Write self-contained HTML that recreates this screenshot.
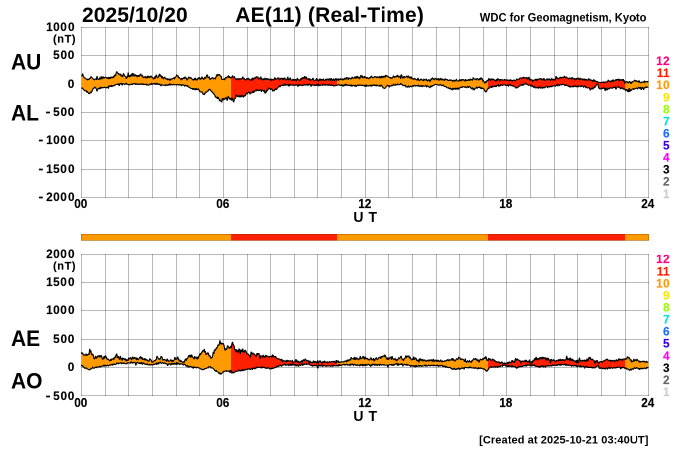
<!DOCTYPE html>
<html><head><meta charset="utf-8"><style>
html,body{margin:0;padding:0;background:#fff;width:700px;height:450px;overflow:hidden}
svg{display:block;position:absolute;left:0;top:0}
.t{position:absolute;font-family:"Liberation Sans", sans-serif;font-weight:bold;color:#000;line-height:1em;white-space:nowrap;transform-origin:0 0}
.stroke{-webkit-text-stroke:0.25px currentColor}
#tx{position:absolute;left:0;top:0;width:1400px;height:900px;transform:scale(0.5);transform-origin:0 0;will-change:transform}
</style></head><body>
<svg width="700" height="450" viewBox="0 0 700 450">
<defs><linearGradient id="g1" gradientUnits="userSpaceOnUse" x1="81" y1="0" x2="649" y2="0"><stop offset="0.0000" stop-color="#ff9b00"/><stop offset="0.2641" stop-color="#ff9b00"/><stop offset="0.2641" stop-color="#ff2000"/><stop offset="0.4507" stop-color="#ff2000"/><stop offset="0.4507" stop-color="#ff9b00"/><stop offset="0.7174" stop-color="#ff9b00"/><stop offset="0.7174" stop-color="#ff2000"/><stop offset="0.9577" stop-color="#ff2000"/><stop offset="0.9577" stop-color="#ff9b00"/><stop offset="1.0000" stop-color="#ff9b00"/></linearGradient></defs>
<rect width="700" height="450" fill="#fff"/>



<g stroke="rgba(0,0,0,0.275)" stroke-width="1" shape-rendering="crispEdges"><line x1="81.5" y1="27" x2="81.5" y2="198"/><line x1="105.5" y1="27" x2="105.5" y2="198"/><line x1="128.5" y1="27" x2="128.5" y2="198"/><line x1="152.5" y1="27" x2="152.5" y2="198"/><line x1="176.5" y1="27" x2="176.5" y2="198"/><line x1="199.5" y1="27" x2="199.5" y2="198"/><line x1="223.5" y1="27" x2="223.5" y2="198"/><line x1="247.5" y1="27" x2="247.5" y2="198"/><line x1="270.5" y1="27" x2="270.5" y2="198"/><line x1="294.5" y1="27" x2="294.5" y2="198"/><line x1="317.5" y1="27" x2="317.5" y2="198"/><line x1="341.5" y1="27" x2="341.5" y2="198"/><line x1="365.5" y1="27" x2="365.5" y2="198"/><line x1="388.5" y1="27" x2="388.5" y2="198"/><line x1="412.5" y1="27" x2="412.5" y2="198"/><line x1="436.5" y1="27" x2="436.5" y2="198"/><line x1="459.5" y1="27" x2="459.5" y2="198"/><line x1="483.5" y1="27" x2="483.5" y2="198"/><line x1="506.5" y1="27" x2="506.5" y2="198"/><line x1="530.5" y1="27" x2="530.5" y2="198"/><line x1="554.5" y1="27" x2="554.5" y2="198"/><line x1="577.5" y1="27" x2="577.5" y2="198"/><line x1="601.5" y1="27" x2="601.5" y2="198"/><line x1="625.5" y1="27" x2="625.5" y2="198"/><line x1="648.5" y1="27" x2="648.5" y2="198"/><line x1="81" y1="27.5" x2="649" y2="27.5"/><line x1="81" y1="55.5" x2="649" y2="55.5"/><line x1="81" y1="84.5" x2="649" y2="84.5"/><line x1="81" y1="112.5" x2="649" y2="112.5"/><line x1="81" y1="140.5" x2="649" y2="140.5"/><line x1="81" y1="169.5" x2="649" y2="169.5"/><line x1="81" y1="197.5" x2="649" y2="197.5"/></g>
<polygon points="81.4,75.9 82.0,75.9 82.6,73.7 83.2,75.7 83.8,76.9 84.4,77.8 85.0,78.1 85.6,78.5 86.2,79.0 86.8,79.2 87.4,79.8 88.0,79.0 88.6,79.5 89.2,79.0 89.8,78.4 90.4,78.0 91.0,76.7 91.6,77.4 92.2,77.8 92.8,78.5 93.4,79.3 94.0,79.4 94.6,79.7 95.2,79.0 95.8,78.9 96.4,79.8 97.0,76.1 97.6,78.9 98.2,79.2 98.8,79.4 99.4,78.2 100.0,79.1 100.6,77.9 101.2,76.4 101.8,79.2 102.4,78.1 103.0,76.4 103.6,78.0 104.2,78.2 104.8,77.5 105.4,77.1 106.0,77.4 106.6,77.8 107.2,77.8 107.8,78.7 108.4,77.2 109.0,79.0 109.6,77.7 110.2,77.3 110.8,78.1 111.4,77.1 112.0,77.3 112.6,77.7 113.2,76.9 113.8,77.3 114.4,75.1 115.0,75.2 115.6,75.6 116.2,73.0 116.8,71.6 117.4,72.9 118.0,73.3 118.6,73.7 119.2,74.6 119.8,74.2 120.4,74.1 121.0,75.8 121.6,75.2 122.2,76.5 122.8,76.3 123.4,73.8 124.0,74.3 124.6,75.5 125.2,76.3 125.8,77.0 126.4,78.7 127.0,76.8 127.6,77.3 128.2,72.5 128.8,76.8 129.4,75.2 130.0,77.0 130.6,75.4 131.2,74.6 131.8,76.0 132.4,73.2 133.0,76.3 133.6,73.5 134.2,74.7 134.8,75.8 135.4,74.9 136.0,75.7 136.6,75.4 137.2,76.6 137.8,75.8 138.4,75.5 139.0,76.8 139.6,75.3 140.2,74.6 140.8,73.8 141.4,76.2 142.0,75.0 142.6,76.2 143.2,77.6 143.8,77.2 144.4,76.9 145.0,77.5 145.6,76.7 146.2,77.9 146.8,76.7 147.4,78.0 148.0,75.6 148.6,77.8 149.2,76.4 149.8,77.8 150.4,76.2 151.0,76.1 151.6,76.4 152.2,77.7 152.8,77.7 153.4,78.9 154.0,78.6 154.6,76.7 155.2,78.6 155.8,76.2 156.4,74.8 157.0,77.0 157.6,77.7 158.2,77.2 158.8,76.1 159.4,73.8 160.0,76.5 160.6,75.3 161.2,75.9 161.8,78.4 162.4,76.3 163.0,77.9 163.6,78.7 164.2,77.6 164.8,77.3 165.4,78.1 166.0,78.8 166.6,79.3 167.2,78.8 167.8,79.6 168.4,79.0 169.0,79.0 169.6,80.6 170.2,79.2 170.8,79.9 171.4,79.1 172.0,79.0 172.6,78.5 173.2,78.4 173.8,77.9 174.4,78.7 175.0,77.5 175.6,77.1 176.2,76.2 176.8,75.1 177.4,75.8 178.0,75.8 178.6,77.6 179.2,77.6 179.8,78.4 180.4,78.7 181.0,79.6 181.6,78.5 182.2,79.2 182.8,78.6 183.4,78.4 184.0,77.3 184.6,78.9 185.2,77.1 185.8,77.7 186.4,78.3 187.0,80.3 187.6,79.4 188.2,78.1 188.8,77.2 189.4,77.7 190.0,78.2 190.6,77.6 191.2,77.9 191.8,78.9 192.4,79.2 193.0,79.7 193.6,80.2 194.2,78.9 194.8,79.7 195.4,77.8 196.0,80.0 196.6,79.7 197.2,79.9 197.8,78.6 198.4,77.9 199.0,78.8 199.6,78.0 200.2,79.4 200.8,78.4 201.4,78.7 202.0,77.2 202.6,77.9 203.2,78.8 203.8,79.6 204.4,78.1 205.0,77.1 205.6,78.5 206.2,76.9 206.8,75.1 207.4,75.1 208.0,77.5 208.6,77.6 209.2,77.1 209.8,79.1 210.4,79.5 211.0,78.5 211.6,78.5 212.2,77.6 212.8,78.0 213.4,78.8 214.0,78.1 214.6,78.3 215.2,78.9 215.8,77.8 216.4,75.6 217.0,74.8 217.6,75.7 218.2,74.5 218.8,74.8 219.4,74.7 220.0,75.3 220.6,76.4 221.2,76.5 221.8,79.3 222.4,79.3 223.0,79.4 223.6,79.3 224.2,79.0 224.8,79.6 225.4,77.7 226.0,78.0 226.6,77.9 227.2,76.8 227.8,76.8 228.4,76.0 229.0,77.4 229.6,76.7 230.2,77.5 230.8,77.9 231.4,77.2 232.0,77.0 232.6,75.6 233.2,77.3 233.8,77.4 234.4,76.8 235.0,78.0 235.6,78.9 236.2,79.1 236.8,78.9 237.4,79.9 238.0,78.5 238.6,78.9 239.2,79.5 239.8,78.7 240.4,78.9 241.0,78.8 241.6,79.0 242.2,78.5 242.8,76.7 243.4,78.8 244.0,78.5 244.6,79.1 245.2,79.4 245.8,80.0 246.4,79.6 247.0,78.3 247.6,79.2 248.2,79.1 248.8,78.4 249.4,79.5 250.0,80.2 250.6,79.9 251.2,79.3 251.8,80.9 252.4,78.3 253.0,78.2 253.6,79.1 254.2,78.2 254.8,77.9 255.4,78.7 256.0,77.0 256.6,76.8 257.2,77.1 257.8,76.9 258.4,78.8 259.0,78.4 259.6,78.4 260.2,78.7 260.8,76.7 261.4,79.0 262.0,79.1 262.6,79.8 263.2,78.8 263.8,79.7 264.4,79.6 265.0,78.4 265.6,79.1 266.2,79.4 266.8,78.6 267.4,79.1 268.0,78.8 268.6,79.5 269.2,79.4 269.8,79.3 270.4,80.1 271.0,78.7 271.6,80.3 272.2,79.7 272.8,79.5 273.4,80.0 274.0,79.6 274.6,77.9 275.2,78.0 275.8,79.4 276.4,79.3 277.0,78.7 277.6,78.1 278.2,78.0 278.8,77.9 279.4,80.2 280.0,79.4 280.6,78.3 281.2,78.4 281.8,78.5 282.4,79.3 283.0,78.0 283.6,79.2 284.2,78.6 284.8,77.7 285.4,79.5 286.0,79.9 286.6,79.2 287.2,79.1 287.8,76.8 288.4,80.4 289.0,78.6 289.6,79.7 290.2,77.7 290.8,79.3 291.4,80.3 292.0,80.4 292.6,79.5 293.2,80.2 293.8,79.5 294.4,80.1 295.0,79.5 295.6,79.6 296.2,80.6 296.8,79.6 297.4,78.6 298.0,79.4 298.6,79.9 299.2,79.8 299.8,80.5 300.4,79.6 301.0,78.6 301.6,79.1 302.2,77.7 302.8,78.2 303.4,77.8 304.0,78.3 304.6,76.2 305.2,77.6 305.8,78.3 306.4,76.8 307.0,78.9 307.6,79.3 308.2,79.2 308.8,78.3 309.4,80.1 310.0,79.2 310.6,80.3 311.2,79.7 311.8,79.7 312.4,79.4 313.0,77.9 313.6,80.4 314.2,80.2 314.8,80.2 315.4,80.1 316.0,79.9 316.6,78.2 317.2,80.7 317.8,79.5 318.4,80.9 319.0,80.2 319.6,79.4 320.2,80.6 320.8,79.4 321.4,80.1 322.0,79.7 322.6,79.8 323.2,79.1 323.8,80.4 324.4,80.2 325.0,79.9 325.6,79.4 326.2,80.4 326.8,79.1 327.4,79.1 328.0,79.4 328.6,80.3 329.2,78.5 329.8,79.5 330.4,80.1 331.0,78.3 331.6,79.2 332.2,80.6 332.8,79.7 333.4,78.7 334.0,80.4 334.6,80.7 335.2,79.0 335.8,78.8 336.4,79.9 337.0,79.2 337.6,79.8 338.2,78.7 338.8,80.1 339.4,79.3 340.0,79.5 340.6,78.7 341.2,79.5 341.8,79.6 342.4,78.8 343.0,80.3 343.6,79.2 344.2,78.4 344.8,79.1 345.4,78.4 346.0,79.6 346.6,77.6 347.2,77.7 347.8,78.0 348.4,79.9 349.0,78.0 349.6,78.3 350.2,78.4 350.8,78.8 351.4,78.9 352.0,77.3 352.6,77.3 353.2,78.5 353.8,78.1 354.4,77.6 355.0,76.7 355.6,78.6 356.2,76.5 356.8,78.3 357.4,76.1 358.0,77.5 358.6,77.4 359.2,78.6 359.8,78.6 360.4,76.0 361.0,75.5 361.6,76.9 362.2,76.2 362.8,77.6 363.4,77.0 364.0,77.7 364.6,76.2 365.2,77.1 365.8,77.2 366.4,78.6 367.0,77.2 367.6,78.1 368.2,78.1 368.8,78.6 369.4,77.9 370.0,77.5 370.6,77.7 371.2,75.8 371.8,76.9 372.4,77.3 373.0,77.8 373.6,77.5 374.2,76.9 374.8,76.7 375.4,76.8 376.0,76.7 376.6,77.6 377.2,77.5 377.8,76.8 378.4,77.6 379.0,77.3 379.6,76.3 380.2,77.9 380.8,77.2 381.4,75.9 382.0,78.0 382.6,76.7 383.2,76.3 383.8,77.3 384.4,76.4 385.0,77.0 385.6,75.5 386.2,76.0 386.8,75.7 387.4,76.1 388.0,76.8 388.6,76.9 389.2,77.2 389.8,77.5 390.4,78.2 391.0,77.6 391.6,78.3 392.2,77.9 392.8,77.6 393.4,75.8 394.0,76.5 394.6,77.3 395.2,76.7 395.8,76.8 396.4,76.1 397.0,76.9 397.6,74.9 398.2,76.7 398.8,77.0 399.4,76.4 400.0,76.2 400.6,78.8 401.2,74.6 401.8,75.6 402.4,77.6 403.0,77.9 403.6,76.7 404.2,76.5 404.8,77.7 405.4,77.3 406.0,76.9 406.6,76.1 407.2,76.6 407.8,77.3 408.4,75.8 409.0,76.7 409.6,78.2 410.2,77.0 410.8,77.8 411.4,77.3 412.0,79.3 412.6,78.4 413.2,78.7 413.8,79.3 414.4,78.5 415.0,78.9 415.6,79.1 416.2,79.6 416.8,80.0 417.4,79.9 418.0,77.9 418.6,79.8 419.2,80.3 419.8,80.3 420.4,79.4 421.0,79.0 421.6,79.8 422.2,79.9 422.8,80.2 423.4,80.6 424.0,79.2 424.6,79.8 425.2,79.8 425.8,79.8 426.4,78.9 427.0,80.5 427.6,80.9 428.2,80.2 428.8,79.7 429.4,80.2 430.0,81.7 430.6,80.1 431.2,78.9 431.8,79.5 432.4,78.0 433.0,78.6 433.6,78.8 434.2,79.9 434.8,78.7 435.4,78.6 436.0,78.5 436.6,79.7 437.2,79.7 437.8,78.7 438.4,78.6 439.0,80.6 439.6,79.3 440.2,78.6 440.8,79.6 441.4,79.0 442.0,80.0 442.6,79.1 443.2,79.6 443.8,79.9 444.4,80.6 445.0,78.7 445.6,79.4 446.2,79.8 446.8,79.4 447.4,79.7 448.0,80.4 448.6,80.4 449.2,80.5 449.8,80.0 450.4,80.3 451.0,79.9 451.6,80.2 452.2,80.5 452.8,81.4 453.4,80.5 454.0,80.2 454.6,81.2 455.2,81.1 455.8,80.1 456.4,79.5 457.0,80.7 457.6,81.2 458.2,81.1 458.8,80.7 459.4,79.8 460.0,80.8 460.6,80.5 461.2,79.3 461.8,80.5 462.4,79.7 463.0,79.6 463.6,79.7 464.2,80.8 464.8,80.9 465.4,79.3 466.0,81.0 466.6,80.2 467.2,80.3 467.8,80.3 468.4,79.6 469.0,80.0 469.6,80.7 470.2,78.9 470.8,79.8 471.4,79.4 472.0,79.9 472.6,80.0 473.2,77.9 473.8,78.2 474.4,79.0 475.0,79.2 475.6,79.0 476.2,79.8 476.8,78.8 477.4,78.7 478.0,79.1 478.6,80.2 479.2,79.2 479.8,78.3 480.4,79.7 481.0,77.3 481.6,79.3 482.2,78.3 482.8,80.9 483.4,80.6 484.0,81.5 484.6,83.3 485.2,82.5 485.8,81.8 486.4,82.1 487.0,80.7 487.6,80.4 488.2,80.5 488.8,78.9 489.4,79.5 490.0,78.7 490.6,80.7 491.2,79.7 491.8,79.0 492.4,79.6 493.0,79.2 493.6,79.3 494.2,80.1 494.8,80.0 495.4,80.3 496.0,81.1 496.6,79.7 497.2,80.5 497.8,78.7 498.4,79.3 499.0,79.7 499.6,81.2 500.2,79.6 500.8,79.6 501.4,79.7 502.0,80.0 502.6,79.8 503.2,80.2 503.8,79.9 504.4,79.5 505.0,80.1 505.6,79.8 506.2,80.2 506.8,79.9 507.4,80.1 508.0,80.0 508.6,80.3 509.2,80.1 509.8,80.6 510.4,79.8 511.0,80.4 511.6,80.4 512.2,81.0 512.8,80.6 513.4,80.2 514.0,80.0 514.6,80.3 515.2,80.6 515.8,80.4 516.4,79.7 517.0,78.9 517.6,79.2 518.2,79.2 518.8,79.2 519.4,79.3 520.0,78.1 520.6,78.0 521.2,77.9 521.8,78.4 522.4,77.9 523.0,78.1 523.6,77.3 524.2,77.6 524.8,78.0 525.4,78.1 526.0,77.9 526.6,77.7 527.2,79.1 527.8,78.1 528.4,78.9 529.0,76.8 529.6,80.3 530.2,78.9 530.8,80.2 531.4,79.7 532.0,79.7 532.6,81.3 533.2,80.6 533.8,80.3 534.4,79.8 535.0,80.0 535.6,79.4 536.2,80.3 536.8,79.4 537.4,80.1 538.0,79.1 538.6,79.2 539.2,78.9 539.8,78.8 540.4,79.0 541.0,78.6 541.6,79.0 542.2,79.5 542.8,80.4 543.4,78.8 544.0,78.7 544.6,80.0 545.2,80.4 545.8,80.0 546.4,79.2 547.0,79.1 547.6,79.1 548.2,79.8 548.8,78.9 549.4,79.1 550.0,79.3 550.6,80.1 551.2,79.7 551.8,78.6 552.4,79.5 553.0,79.9 553.6,79.3 554.2,79.7 554.8,79.5 555.4,80.3 556.0,76.1 556.6,77.9 557.2,77.8 557.8,78.6 558.4,78.8 559.0,78.2 559.6,78.4 560.2,77.2 560.8,77.5 561.4,78.0 562.0,77.5 562.6,77.3 563.2,77.5 563.8,77.4 564.4,75.9 565.0,77.4 565.6,77.6 566.2,77.0 566.8,77.4 567.4,78.2 568.0,78.3 568.6,79.3 569.2,78.0 569.8,78.4 570.4,78.5 571.0,78.1 571.6,79.1 572.2,77.7 572.8,77.9 573.4,78.8 574.0,79.9 574.6,78.7 575.2,78.8 575.8,79.5 576.4,78.5 577.0,79.0 577.6,78.4 578.2,78.0 578.8,79.4 579.4,79.6 580.0,78.3 580.6,78.8 581.2,78.8 581.8,79.1 582.4,79.8 583.0,78.9 583.6,79.7 584.2,80.1 584.8,78.7 585.4,79.6 586.0,80.0 586.6,79.6 587.2,80.0 587.8,80.3 588.4,78.9 589.0,79.5 589.6,79.3 590.2,80.3 590.8,80.0 591.4,80.1 592.0,80.4 592.6,81.4 593.2,80.2 593.8,79.5 594.4,81.3 595.0,80.6 595.6,81.6 596.2,81.9 596.8,81.4 597.4,81.6 598.0,82.1 598.6,82.2 599.2,82.4 599.8,82.5 600.4,82.5 601.0,82.7 601.6,82.4 602.2,82.4 602.8,82.2 603.4,82.0 604.0,82.7 604.6,82.2 605.2,82.0 605.8,82.1 606.4,81.9 607.0,81.9 607.6,81.8 608.2,80.3 608.8,80.9 609.4,81.0 610.0,81.2 610.6,81.9 611.2,80.7 611.8,80.7 612.4,81.8 613.0,79.6 613.6,80.8 614.2,81.1 614.8,80.6 615.4,79.9 616.0,80.8 616.6,79.5 617.2,79.5 617.8,79.4 618.4,80.3 619.0,79.3 619.6,80.1 620.2,79.7 620.8,80.4 621.4,80.1 622.0,79.6 622.6,80.2 623.2,79.3 623.8,81.0 624.4,80.9 625.0,83.5 625.6,82.3 626.2,81.7 626.8,81.5 627.4,82.3 628.0,82.1 628.6,83.1 629.2,81.9 629.8,81.5 630.4,82.2 631.0,83.8 631.6,82.2 632.2,82.4 632.8,81.7 633.4,81.2 634.0,80.9 634.6,80.3 635.2,80.8 635.8,81.4 636.4,80.8 637.0,81.2 637.6,81.4 638.2,81.0 638.8,82.1 639.4,81.2 640.0,82.4 640.6,82.9 641.2,82.5 641.8,81.9 642.4,82.2 643.0,82.3 643.6,82.0 644.2,81.2 644.8,82.4 645.4,81.5 646.0,81.5 646.6,81.7 647.2,81.5 647.8,82.0 648.4,81.3 648.4,87.2 647.8,87.1 647.2,87.2 646.6,87.4 646.0,86.9 645.4,87.8 644.8,88.0 644.2,87.7 643.6,89.9 643.0,88.4 642.4,87.5 641.8,87.7 641.2,89.8 640.6,87.5 640.0,87.9 639.4,88.2 638.8,87.4 638.2,87.8 637.6,88.9 637.0,88.3 636.4,88.1 635.8,88.2 635.2,88.7 634.6,88.8 634.0,89.4 633.4,88.5 632.8,89.0 632.2,89.2 631.6,90.1 631.0,89.6 630.4,90.8 629.8,91.3 629.2,88.2 628.6,92.0 628.0,90.4 627.4,91.1 626.8,89.7 626.2,89.6 625.6,90.7 625.0,89.2 624.4,88.8 623.8,89.1 623.2,88.9 622.6,88.2 622.0,87.8 621.4,88.2 620.8,88.7 620.2,88.4 619.6,87.3 619.0,87.6 618.4,86.9 617.8,86.3 617.2,87.2 616.6,87.8 616.0,89.4 615.4,87.3 614.8,87.1 614.2,87.6 613.6,86.8 613.0,87.7 612.4,88.2 611.8,88.2 611.2,87.9 610.6,88.0 610.0,87.8 609.4,88.8 608.8,88.4 608.2,88.9 607.6,89.0 607.0,90.3 606.4,88.2 605.8,88.4 605.2,90.8 604.6,87.8 604.0,88.4 603.4,87.8 602.8,88.2 602.2,88.5 601.6,88.0 601.0,88.8 600.4,88.8 599.8,88.7 599.2,88.7 598.6,87.3 598.0,84.8 597.4,83.9 596.8,84.2 596.2,85.2 595.6,86.4 595.0,87.3 594.4,86.9 593.8,88.0 593.2,87.9 592.6,89.3 592.0,88.0 591.4,89.1 590.8,89.2 590.2,89.9 589.6,88.4 589.0,87.7 588.4,87.6 587.8,88.1 587.2,87.6 586.6,87.2 586.0,87.7 585.4,86.9 584.8,86.0 584.2,86.7 583.6,87.2 583.0,86.3 582.4,85.9 581.8,86.3 581.2,86.0 580.6,86.7 580.0,86.0 579.4,86.0 578.8,86.2 578.2,86.8 577.6,85.4 577.0,86.7 576.4,86.4 575.8,86.6 575.2,85.9 574.6,86.2 574.0,85.6 573.4,86.7 572.8,86.9 572.2,86.5 571.6,86.3 571.0,86.8 570.4,86.6 569.8,86.9 569.2,86.0 568.6,86.4 568.0,86.1 567.4,85.5 566.8,85.4 566.2,84.9 565.6,85.2 565.0,85.5 564.4,84.9 563.8,84.5 563.2,84.4 562.6,84.3 562.0,84.7 561.4,84.9 560.8,84.6 560.2,84.5 559.6,85.0 559.0,85.6 558.4,84.9 557.8,84.5 557.2,85.6 556.6,84.8 556.0,85.5 555.4,86.2 554.8,85.7 554.2,85.7 553.6,85.7 553.0,86.1 552.4,86.3 551.8,86.7 551.2,86.0 550.6,86.4 550.0,87.0 549.4,87.0 548.8,86.5 548.2,86.6 547.6,87.5 547.0,86.7 546.4,86.3 545.8,87.0 545.2,87.0 544.6,87.8 544.0,87.5 543.4,87.8 542.8,87.5 542.2,88.0 541.6,87.2 541.0,88.2 540.4,87.7 539.8,87.6 539.2,86.8 538.6,88.0 538.0,87.5 537.4,87.8 536.8,87.7 536.2,87.8 535.6,87.9 535.0,87.5 534.4,86.6 533.8,87.2 533.2,86.9 532.6,86.1 532.0,86.5 531.4,85.0 530.8,85.8 530.2,85.3 529.6,84.6 529.0,85.0 528.4,85.3 527.8,84.9 527.2,84.2 526.6,84.2 526.0,83.7 525.4,83.4 524.8,83.7 524.2,84.1 523.6,84.9 523.0,85.4 522.4,84.5 521.8,85.2 521.2,85.0 520.6,85.0 520.0,85.9 519.4,85.8 518.8,86.6 518.2,86.9 517.6,87.6 517.0,87.6 516.4,87.9 515.8,87.9 515.2,87.0 514.6,86.8 514.0,86.5 513.4,85.9 512.8,85.8 512.2,85.9 511.6,85.3 511.0,85.5 510.4,84.8 509.8,85.1 509.2,84.4 508.6,86.0 508.0,85.8 507.4,84.8 506.8,85.4 506.2,85.7 505.6,85.3 505.0,84.8 504.4,84.7 503.8,84.8 503.2,84.7 502.6,85.3 502.0,85.4 501.4,85.1 500.8,84.9 500.2,85.7 499.6,85.7 499.0,86.2 498.4,84.7 497.8,85.2 497.2,85.4 496.6,86.4 496.0,85.9 495.4,86.5 494.8,86.2 494.2,86.4 493.6,86.6 493.0,86.7 492.4,86.0 491.8,87.8 491.2,86.6 490.6,86.4 490.0,87.7 489.4,87.7 488.8,88.5 488.2,88.1 487.6,89.2 487.0,90.2 486.4,91.8 485.8,91.9 485.2,91.2 484.6,90.8 484.0,89.1 483.4,88.8 482.8,88.0 482.2,88.4 481.6,88.6 481.0,87.8 480.4,88.2 479.8,86.9 479.2,87.5 478.6,87.4 478.0,87.4 477.4,88.0 476.8,87.2 476.2,88.1 475.6,88.0 475.0,88.4 474.4,89.6 473.8,89.0 473.2,89.7 472.6,88.0 472.0,88.2 471.4,88.6 470.8,87.8 470.2,87.1 469.6,86.5 469.0,86.6 468.4,87.7 467.8,86.6 467.2,86.9 466.6,87.6 466.0,87.1 465.4,86.9 464.8,87.3 464.2,87.0 463.6,86.8 463.0,86.7 462.4,87.2 461.8,87.3 461.2,87.0 460.6,87.6 460.0,87.7 459.4,87.8 458.8,88.9 458.2,89.0 457.6,87.8 457.0,89.1 456.4,88.8 455.8,88.2 455.2,89.2 454.6,88.7 454.0,88.9 453.4,88.4 452.8,89.6 452.2,88.7 451.6,89.5 451.0,89.0 450.4,88.3 449.8,88.6 449.2,88.6 448.6,87.8 448.0,88.0 447.4,87.7 446.8,87.5 446.2,86.7 445.6,86.6 445.0,86.7 444.4,86.2 443.8,86.1 443.2,85.1 442.6,85.5 442.0,85.3 441.4,85.5 440.8,84.9 440.2,84.4 439.6,84.9 439.0,85.1 438.4,85.2 437.8,85.0 437.2,84.6 436.6,84.5 436.0,84.3 435.4,84.3 434.8,84.6 434.2,85.2 433.6,85.2 433.0,85.5 432.4,86.2 431.8,86.0 431.2,86.7 430.6,86.2 430.0,87.6 429.4,87.0 428.8,87.0 428.2,86.6 427.6,85.9 427.0,86.1 426.4,86.7 425.8,85.1 425.2,85.9 424.6,86.2 424.0,86.2 423.4,85.9 422.8,85.7 422.2,86.6 421.6,85.8 421.0,86.3 420.4,85.8 419.8,86.3 419.2,86.1 418.6,85.2 418.0,86.1 417.4,85.7 416.8,85.5 416.2,85.8 415.6,86.1 415.0,85.7 414.4,85.4 413.8,85.6 413.2,86.2 412.6,85.8 412.0,86.4 411.4,86.7 410.8,86.2 410.2,86.4 409.6,87.1 409.0,86.8 408.4,86.0 407.8,87.0 407.2,86.9 406.6,86.5 406.0,86.9 405.4,85.4 404.8,85.4 404.2,85.6 403.6,85.7 403.0,85.6 402.4,84.7 401.8,84.2 401.2,84.2 400.6,83.2 400.0,84.4 399.4,84.7 398.8,84.6 398.2,84.8 397.6,83.9 397.0,84.6 396.4,84.8 395.8,84.4 395.2,85.3 394.6,84.9 394.0,85.0 393.4,84.5 392.8,85.7 392.2,85.3 391.6,85.3 391.0,86.1 390.4,86.0 389.8,85.7 389.2,86.8 388.6,85.9 388.0,85.8 387.4,85.3 386.8,85.8 386.2,86.7 385.6,87.6 385.0,88.3 384.4,88.4 383.8,88.0 383.2,87.9 382.6,86.9 382.0,86.0 381.4,85.4 380.8,86.0 380.2,84.9 379.6,86.1 379.0,85.6 378.4,85.8 377.8,85.6 377.2,85.2 376.6,85.8 376.0,85.0 375.4,85.7 374.8,85.5 374.2,85.0 373.6,85.5 373.0,84.9 372.4,85.2 371.8,86.1 371.2,85.3 370.6,86.3 370.0,85.2 369.4,85.5 368.8,85.8 368.2,86.1 367.6,85.8 367.0,86.0 366.4,85.1 365.8,86.2 365.2,85.3 364.6,86.1 364.0,85.4 363.4,85.5 362.8,85.6 362.2,85.2 361.6,85.6 361.0,85.3 360.4,85.1 359.8,85.3 359.2,85.0 358.6,85.4 358.0,85.6 357.4,85.1 356.8,85.4 356.2,86.2 355.6,85.4 355.0,86.2 354.4,85.7 353.8,85.3 353.2,85.6 352.6,85.4 352.0,86.0 351.4,85.1 350.8,85.9 350.2,85.4 349.6,85.1 349.0,85.3 348.4,85.1 347.8,85.1 347.2,85.4 346.6,84.6 346.0,85.1 345.4,84.3 344.8,85.5 344.2,85.0 343.6,85.3 343.0,86.4 342.4,85.2 341.8,84.8 341.2,85.3 340.6,85.3 340.0,85.3 339.4,85.0 338.8,84.4 338.2,84.6 337.6,85.2 337.0,85.2 336.4,85.5 335.8,85.4 335.2,85.6 334.6,85.7 334.0,85.8 333.4,85.8 332.8,85.3 332.2,85.4 331.6,84.6 331.0,85.3 330.4,85.1 329.8,85.1 329.2,84.6 328.6,85.3 328.0,84.8 327.4,85.2 326.8,84.9 326.2,85.0 325.6,84.7 325.0,85.2 324.4,84.9 323.8,84.2 323.2,85.0 322.6,85.3 322.0,84.7 321.4,84.8 320.8,85.4 320.2,85.3 319.6,85.2 319.0,85.8 318.4,84.4 317.8,85.2 317.2,84.3 316.6,85.2 316.0,84.9 315.4,85.4 314.8,85.6 314.2,85.1 313.6,85.0 313.0,85.2 312.4,84.7 311.8,84.7 311.2,86.4 310.6,85.3 310.0,84.3 309.4,84.1 308.8,85.0 308.2,84.6 307.6,85.2 307.0,84.4 306.4,84.9 305.8,84.9 305.2,84.8 304.6,85.0 304.0,84.4 303.4,85.2 302.8,85.7 302.2,85.5 301.6,85.1 301.0,85.4 300.4,85.3 299.8,84.8 299.2,85.3 298.6,84.7 298.0,86.5 297.4,85.6 296.8,84.7 296.2,84.7 295.6,85.2 295.0,85.0 294.4,85.2 293.8,85.4 293.2,84.7 292.6,85.2 292.0,85.1 291.4,84.8 290.8,84.9 290.2,85.0 289.6,85.7 289.0,84.0 288.4,85.6 287.8,85.0 287.2,84.6 286.6,84.5 286.0,85.1 285.4,85.1 284.8,84.1 284.2,85.1 283.6,84.7 283.0,85.6 282.4,85.1 281.8,85.4 281.2,85.4 280.6,85.9 280.0,87.0 279.4,85.6 278.8,86.9 278.2,87.3 277.6,87.5 277.0,88.9 276.4,89.5 275.8,89.4 275.2,88.9 274.6,90.3 274.0,90.9 273.4,90.6 272.8,91.0 272.2,89.7 271.6,88.8 271.0,89.1 270.4,89.3 269.8,88.8 269.2,88.2 268.6,88.1 268.0,89.7 267.4,90.5 266.8,90.3 266.2,92.0 265.6,91.3 265.0,93.5 264.4,90.8 263.8,91.3 263.2,90.5 262.6,90.4 262.0,90.3 261.4,91.7 260.8,89.8 260.2,89.6 259.6,90.2 259.0,90.6 258.4,90.5 257.8,90.0 257.2,90.4 256.6,90.1 256.0,90.9 255.4,90.4 254.8,91.1 254.2,91.9 253.6,92.4 253.0,91.4 252.4,92.2 251.8,93.0 251.2,93.0 250.6,92.9 250.0,93.8 249.4,92.6 248.8,92.0 248.2,92.7 247.6,93.3 247.0,93.7 246.4,93.4 245.8,94.7 245.2,95.7 244.6,96.0 244.0,95.5 243.4,96.9 242.8,96.3 242.2,96.1 241.6,95.1 241.0,97.3 240.4,96.2 239.8,95.1 239.2,96.8 238.6,96.7 238.0,95.9 237.4,96.4 236.8,95.6 236.2,95.2 235.6,98.1 235.0,98.5 234.4,98.8 233.8,101.7 233.2,101.3 232.6,99.2 232.0,98.0 231.4,99.9 230.8,99.3 230.2,97.9 229.6,98.9 229.0,98.2 228.4,96.6 227.8,97.1 227.2,100.6 226.6,98.8 226.0,97.4 225.4,98.0 224.8,99.4 224.2,99.2 223.6,98.4 223.0,100.2 222.4,98.1 221.8,101.9 221.2,101.6 220.6,100.9 220.0,100.0 219.4,100.5 218.8,98.6 218.2,97.2 217.6,98.9 217.0,97.1 216.4,97.7 215.8,97.3 215.2,96.4 214.6,94.5 214.0,94.1 213.4,93.8 212.8,92.5 212.2,92.1 211.6,91.7 211.0,90.6 210.4,89.8 209.8,89.2 209.2,89.8 208.6,89.6 208.0,91.1 207.4,91.1 206.8,91.8 206.2,92.4 205.6,92.2 205.0,93.4 204.4,94.9 203.8,94.0 203.2,94.2 202.6,93.2 202.0,91.9 201.4,91.8 200.8,92.0 200.2,92.0 199.6,91.2 199.0,89.9 198.4,88.9 197.8,89.1 197.2,89.7 196.6,89.5 196.0,88.3 195.4,89.6 194.8,89.2 194.2,89.4 193.6,88.3 193.0,89.6 192.4,88.5 191.8,88.5 191.2,88.7 190.6,88.3 190.0,87.6 189.4,87.3 188.8,87.1 188.2,86.9 187.6,85.7 187.0,86.2 186.4,85.6 185.8,85.5 185.2,85.1 184.6,86.2 184.0,85.7 183.4,85.0 182.8,85.0 182.2,84.8 181.6,85.6 181.0,84.9 180.4,84.7 179.8,84.9 179.2,84.8 178.6,84.9 178.0,84.5 177.4,84.6 176.8,84.8 176.2,84.6 175.6,84.7 175.0,84.5 174.4,84.7 173.8,84.7 173.2,84.4 172.6,84.9 172.0,84.5 171.4,84.4 170.8,84.8 170.2,85.0 169.6,83.4 169.0,84.9 168.4,84.6 167.8,85.3 167.2,85.1 166.6,85.1 166.0,84.8 165.4,85.3 164.8,85.3 164.2,85.4 163.6,85.2 163.0,85.0 162.4,84.7 161.8,84.7 161.2,85.7 160.6,85.4 160.0,84.3 159.4,84.6 158.8,84.0 158.2,84.3 157.6,83.7 157.0,84.2 156.4,83.4 155.8,84.2 155.2,83.7 154.6,83.8 154.0,83.5 153.4,83.8 152.8,83.9 152.2,84.2 151.6,83.5 151.0,84.5 150.4,84.0 149.8,84.2 149.2,84.7 148.6,85.2 148.0,85.0 147.4,84.7 146.8,84.1 146.2,84.9 145.6,84.5 145.0,84.3 144.4,84.3 143.8,84.4 143.2,83.8 142.6,84.5 142.0,84.3 141.4,83.7 140.8,84.0 140.2,84.3 139.6,84.1 139.0,84.1 138.4,84.0 137.8,84.4 137.2,84.1 136.6,84.1 136.0,83.8 135.4,84.3 134.8,83.6 134.2,83.5 133.6,83.5 133.0,84.1 132.4,84.3 131.8,84.3 131.2,84.0 130.6,84.4 130.0,84.7 129.4,84.8 128.8,84.7 128.2,84.4 127.6,84.2 127.0,84.2 126.4,83.4 125.8,83.8 125.2,84.2 124.6,84.4 124.0,83.7 123.4,83.7 122.8,83.8 122.2,85.4 121.6,83.1 121.0,83.7 120.4,83.6 119.8,83.9 119.2,85.8 118.6,83.7 118.0,84.4 117.4,84.1 116.8,84.2 116.2,84.5 115.6,84.6 115.0,85.0 114.4,85.6 113.8,85.7 113.2,85.4 112.6,86.1 112.0,86.5 111.4,85.5 110.8,86.5 110.2,86.0 109.6,86.3 109.0,85.9 108.4,88.5 107.8,87.1 107.2,87.5 106.6,87.7 106.0,87.5 105.4,87.9 104.8,87.4 104.2,87.3 103.6,87.6 103.0,87.5 102.4,87.6 101.8,88.0 101.2,87.3 100.6,88.3 100.0,87.5 99.4,88.8 98.8,88.5 98.2,89.0 97.6,89.0 97.0,91.4 96.4,89.4 95.8,87.8 95.2,87.4 94.6,87.1 94.0,88.4 93.4,88.6 92.8,89.0 92.2,91.1 91.6,91.5 91.0,93.0 90.4,92.0 89.8,93.3 89.2,93.7 88.6,93.5 88.0,92.5 87.4,91.5 86.8,92.0 86.2,90.7 85.6,90.9 85.0,90.7 84.4,90.7 83.8,89.4 83.2,89.3 82.6,88.1 82.0,88.2 81.4,87.7" fill="url(#g1)"/><polyline points="81.4,75.9 82.0,75.9 82.6,73.7 83.2,75.7 83.8,76.9 84.4,77.8 85.0,78.1 85.6,78.5 86.2,79.0 86.8,79.2 87.4,79.8 88.0,79.0 88.6,79.5 89.2,79.0 89.8,78.4 90.4,78.0 91.0,76.7 91.6,77.4 92.2,77.8 92.8,78.5 93.4,79.3 94.0,79.4 94.6,79.7 95.2,79.0 95.8,78.9 96.4,79.8 97.0,76.1 97.6,78.9 98.2,79.2 98.8,79.4 99.4,78.2 100.0,79.1 100.6,77.9 101.2,76.4 101.8,79.2 102.4,78.1 103.0,76.4 103.6,78.0 104.2,78.2 104.8,77.5 105.4,77.1 106.0,77.4 106.6,77.8 107.2,77.8 107.8,78.7 108.4,77.2 109.0,79.0 109.6,77.7 110.2,77.3 110.8,78.1 111.4,77.1 112.0,77.3 112.6,77.7 113.2,76.9 113.8,77.3 114.4,75.1 115.0,75.2 115.6,75.6 116.2,73.0 116.8,71.6 117.4,72.9 118.0,73.3 118.6,73.7 119.2,74.6 119.8,74.2 120.4,74.1 121.0,75.8 121.6,75.2 122.2,76.5 122.8,76.3 123.4,73.8 124.0,74.3 124.6,75.5 125.2,76.3 125.8,77.0 126.4,78.7 127.0,76.8 127.6,77.3 128.2,72.5 128.8,76.8 129.4,75.2 130.0,77.0 130.6,75.4 131.2,74.6 131.8,76.0 132.4,73.2 133.0,76.3 133.6,73.5 134.2,74.7 134.8,75.8 135.4,74.9 136.0,75.7 136.6,75.4 137.2,76.6 137.8,75.8 138.4,75.5 139.0,76.8 139.6,75.3 140.2,74.6 140.8,73.8 141.4,76.2 142.0,75.0 142.6,76.2 143.2,77.6 143.8,77.2 144.4,76.9 145.0,77.5 145.6,76.7 146.2,77.9 146.8,76.7 147.4,78.0 148.0,75.6 148.6,77.8 149.2,76.4 149.8,77.8 150.4,76.2 151.0,76.1 151.6,76.4 152.2,77.7 152.8,77.7 153.4,78.9 154.0,78.6 154.6,76.7 155.2,78.6 155.8,76.2 156.4,74.8 157.0,77.0 157.6,77.7 158.2,77.2 158.8,76.1 159.4,73.8 160.0,76.5 160.6,75.3 161.2,75.9 161.8,78.4 162.4,76.3 163.0,77.9 163.6,78.7 164.2,77.6 164.8,77.3 165.4,78.1 166.0,78.8 166.6,79.3 167.2,78.8 167.8,79.6 168.4,79.0 169.0,79.0 169.6,80.6 170.2,79.2 170.8,79.9 171.4,79.1 172.0,79.0 172.6,78.5 173.2,78.4 173.8,77.9 174.4,78.7 175.0,77.5 175.6,77.1 176.2,76.2 176.8,75.1 177.4,75.8 178.0,75.8 178.6,77.6 179.2,77.6 179.8,78.4 180.4,78.7 181.0,79.6 181.6,78.5 182.2,79.2 182.8,78.6 183.4,78.4 184.0,77.3 184.6,78.9 185.2,77.1 185.8,77.7 186.4,78.3 187.0,80.3 187.6,79.4 188.2,78.1 188.8,77.2 189.4,77.7 190.0,78.2 190.6,77.6 191.2,77.9 191.8,78.9 192.4,79.2 193.0,79.7 193.6,80.2 194.2,78.9 194.8,79.7 195.4,77.8 196.0,80.0 196.6,79.7 197.2,79.9 197.8,78.6 198.4,77.9 199.0,78.8 199.6,78.0 200.2,79.4 200.8,78.4 201.4,78.7 202.0,77.2 202.6,77.9 203.2,78.8 203.8,79.6 204.4,78.1 205.0,77.1 205.6,78.5 206.2,76.9 206.8,75.1 207.4,75.1 208.0,77.5 208.6,77.6 209.2,77.1 209.8,79.1 210.4,79.5 211.0,78.5 211.6,78.5 212.2,77.6 212.8,78.0 213.4,78.8 214.0,78.1 214.6,78.3 215.2,78.9 215.8,77.8 216.4,75.6 217.0,74.8 217.6,75.7 218.2,74.5 218.8,74.8 219.4,74.7 220.0,75.3 220.6,76.4 221.2,76.5 221.8,79.3 222.4,79.3 223.0,79.4 223.6,79.3 224.2,79.0 224.8,79.6 225.4,77.7 226.0,78.0 226.6,77.9 227.2,76.8 227.8,76.8 228.4,76.0 229.0,77.4 229.6,76.7 230.2,77.5 230.8,77.9 231.4,77.2 232.0,77.0 232.6,75.6 233.2,77.3 233.8,77.4 234.4,76.8 235.0,78.0 235.6,78.9 236.2,79.1 236.8,78.9 237.4,79.9 238.0,78.5 238.6,78.9 239.2,79.5 239.8,78.7 240.4,78.9 241.0,78.8 241.6,79.0 242.2,78.5 242.8,76.7 243.4,78.8 244.0,78.5 244.6,79.1 245.2,79.4 245.8,80.0 246.4,79.6 247.0,78.3 247.6,79.2 248.2,79.1 248.8,78.4 249.4,79.5 250.0,80.2 250.6,79.9 251.2,79.3 251.8,80.9 252.4,78.3 253.0,78.2 253.6,79.1 254.2,78.2 254.8,77.9 255.4,78.7 256.0,77.0 256.6,76.8 257.2,77.1 257.8,76.9 258.4,78.8 259.0,78.4 259.6,78.4 260.2,78.7 260.8,76.7 261.4,79.0 262.0,79.1 262.6,79.8 263.2,78.8 263.8,79.7 264.4,79.6 265.0,78.4 265.6,79.1 266.2,79.4 266.8,78.6 267.4,79.1 268.0,78.8 268.6,79.5 269.2,79.4 269.8,79.3 270.4,80.1 271.0,78.7 271.6,80.3 272.2,79.7 272.8,79.5 273.4,80.0 274.0,79.6 274.6,77.9 275.2,78.0 275.8,79.4 276.4,79.3 277.0,78.7 277.6,78.1 278.2,78.0 278.8,77.9 279.4,80.2 280.0,79.4 280.6,78.3 281.2,78.4 281.8,78.5 282.4,79.3 283.0,78.0 283.6,79.2 284.2,78.6 284.8,77.7 285.4,79.5 286.0,79.9 286.6,79.2 287.2,79.1 287.8,76.8 288.4,80.4 289.0,78.6 289.6,79.7 290.2,77.7 290.8,79.3 291.4,80.3 292.0,80.4 292.6,79.5 293.2,80.2 293.8,79.5 294.4,80.1 295.0,79.5 295.6,79.6 296.2,80.6 296.8,79.6 297.4,78.6 298.0,79.4 298.6,79.9 299.2,79.8 299.8,80.5 300.4,79.6 301.0,78.6 301.6,79.1 302.2,77.7 302.8,78.2 303.4,77.8 304.0,78.3 304.6,76.2 305.2,77.6 305.8,78.3 306.4,76.8 307.0,78.9 307.6,79.3 308.2,79.2 308.8,78.3 309.4,80.1 310.0,79.2 310.6,80.3 311.2,79.7 311.8,79.7 312.4,79.4 313.0,77.9 313.6,80.4 314.2,80.2 314.8,80.2 315.4,80.1 316.0,79.9 316.6,78.2 317.2,80.7 317.8,79.5 318.4,80.9 319.0,80.2 319.6,79.4 320.2,80.6 320.8,79.4 321.4,80.1 322.0,79.7 322.6,79.8 323.2,79.1 323.8,80.4 324.4,80.2 325.0,79.9 325.6,79.4 326.2,80.4 326.8,79.1 327.4,79.1 328.0,79.4 328.6,80.3 329.2,78.5 329.8,79.5 330.4,80.1 331.0,78.3 331.6,79.2 332.2,80.6 332.8,79.7 333.4,78.7 334.0,80.4 334.6,80.7 335.2,79.0 335.8,78.8 336.4,79.9 337.0,79.2 337.6,79.8 338.2,78.7 338.8,80.1 339.4,79.3 340.0,79.5 340.6,78.7 341.2,79.5 341.8,79.6 342.4,78.8 343.0,80.3 343.6,79.2 344.2,78.4 344.8,79.1 345.4,78.4 346.0,79.6 346.6,77.6 347.2,77.7 347.8,78.0 348.4,79.9 349.0,78.0 349.6,78.3 350.2,78.4 350.8,78.8 351.4,78.9 352.0,77.3 352.6,77.3 353.2,78.5 353.8,78.1 354.4,77.6 355.0,76.7 355.6,78.6 356.2,76.5 356.8,78.3 357.4,76.1 358.0,77.5 358.6,77.4 359.2,78.6 359.8,78.6 360.4,76.0 361.0,75.5 361.6,76.9 362.2,76.2 362.8,77.6 363.4,77.0 364.0,77.7 364.6,76.2 365.2,77.1 365.8,77.2 366.4,78.6 367.0,77.2 367.6,78.1 368.2,78.1 368.8,78.6 369.4,77.9 370.0,77.5 370.6,77.7 371.2,75.8 371.8,76.9 372.4,77.3 373.0,77.8 373.6,77.5 374.2,76.9 374.8,76.7 375.4,76.8 376.0,76.7 376.6,77.6 377.2,77.5 377.8,76.8 378.4,77.6 379.0,77.3 379.6,76.3 380.2,77.9 380.8,77.2 381.4,75.9 382.0,78.0 382.6,76.7 383.2,76.3 383.8,77.3 384.4,76.4 385.0,77.0 385.6,75.5 386.2,76.0 386.8,75.7 387.4,76.1 388.0,76.8 388.6,76.9 389.2,77.2 389.8,77.5 390.4,78.2 391.0,77.6 391.6,78.3 392.2,77.9 392.8,77.6 393.4,75.8 394.0,76.5 394.6,77.3 395.2,76.7 395.8,76.8 396.4,76.1 397.0,76.9 397.6,74.9 398.2,76.7 398.8,77.0 399.4,76.4 400.0,76.2 400.6,78.8 401.2,74.6 401.8,75.6 402.4,77.6 403.0,77.9 403.6,76.7 404.2,76.5 404.8,77.7 405.4,77.3 406.0,76.9 406.6,76.1 407.2,76.6 407.8,77.3 408.4,75.8 409.0,76.7 409.6,78.2 410.2,77.0 410.8,77.8 411.4,77.3 412.0,79.3 412.6,78.4 413.2,78.7 413.8,79.3 414.4,78.5 415.0,78.9 415.6,79.1 416.2,79.6 416.8,80.0 417.4,79.9 418.0,77.9 418.6,79.8 419.2,80.3 419.8,80.3 420.4,79.4 421.0,79.0 421.6,79.8 422.2,79.9 422.8,80.2 423.4,80.6 424.0,79.2 424.6,79.8 425.2,79.8 425.8,79.8 426.4,78.9 427.0,80.5 427.6,80.9 428.2,80.2 428.8,79.7 429.4,80.2 430.0,81.7 430.6,80.1 431.2,78.9 431.8,79.5 432.4,78.0 433.0,78.6 433.6,78.8 434.2,79.9 434.8,78.7 435.4,78.6 436.0,78.5 436.6,79.7 437.2,79.7 437.8,78.7 438.4,78.6 439.0,80.6 439.6,79.3 440.2,78.6 440.8,79.6 441.4,79.0 442.0,80.0 442.6,79.1 443.2,79.6 443.8,79.9 444.4,80.6 445.0,78.7 445.6,79.4 446.2,79.8 446.8,79.4 447.4,79.7 448.0,80.4 448.6,80.4 449.2,80.5 449.8,80.0 450.4,80.3 451.0,79.9 451.6,80.2 452.2,80.5 452.8,81.4 453.4,80.5 454.0,80.2 454.6,81.2 455.2,81.1 455.8,80.1 456.4,79.5 457.0,80.7 457.6,81.2 458.2,81.1 458.8,80.7 459.4,79.8 460.0,80.8 460.6,80.5 461.2,79.3 461.8,80.5 462.4,79.7 463.0,79.6 463.6,79.7 464.2,80.8 464.8,80.9 465.4,79.3 466.0,81.0 466.6,80.2 467.2,80.3 467.8,80.3 468.4,79.6 469.0,80.0 469.6,80.7 470.2,78.9 470.8,79.8 471.4,79.4 472.0,79.9 472.6,80.0 473.2,77.9 473.8,78.2 474.4,79.0 475.0,79.2 475.6,79.0 476.2,79.8 476.8,78.8 477.4,78.7 478.0,79.1 478.6,80.2 479.2,79.2 479.8,78.3 480.4,79.7 481.0,77.3 481.6,79.3 482.2,78.3 482.8,80.9 483.4,80.6 484.0,81.5 484.6,83.3 485.2,82.5 485.8,81.8 486.4,82.1 487.0,80.7 487.6,80.4 488.2,80.5 488.8,78.9 489.4,79.5 490.0,78.7 490.6,80.7 491.2,79.7 491.8,79.0 492.4,79.6 493.0,79.2 493.6,79.3 494.2,80.1 494.8,80.0 495.4,80.3 496.0,81.1 496.6,79.7 497.2,80.5 497.8,78.7 498.4,79.3 499.0,79.7 499.6,81.2 500.2,79.6 500.8,79.6 501.4,79.7 502.0,80.0 502.6,79.8 503.2,80.2 503.8,79.9 504.4,79.5 505.0,80.1 505.6,79.8 506.2,80.2 506.8,79.9 507.4,80.1 508.0,80.0 508.6,80.3 509.2,80.1 509.8,80.6 510.4,79.8 511.0,80.4 511.6,80.4 512.2,81.0 512.8,80.6 513.4,80.2 514.0,80.0 514.6,80.3 515.2,80.6 515.8,80.4 516.4,79.7 517.0,78.9 517.6,79.2 518.2,79.2 518.8,79.2 519.4,79.3 520.0,78.1 520.6,78.0 521.2,77.9 521.8,78.4 522.4,77.9 523.0,78.1 523.6,77.3 524.2,77.6 524.8,78.0 525.4,78.1 526.0,77.9 526.6,77.7 527.2,79.1 527.8,78.1 528.4,78.9 529.0,76.8 529.6,80.3 530.2,78.9 530.8,80.2 531.4,79.7 532.0,79.7 532.6,81.3 533.2,80.6 533.8,80.3 534.4,79.8 535.0,80.0 535.6,79.4 536.2,80.3 536.8,79.4 537.4,80.1 538.0,79.1 538.6,79.2 539.2,78.9 539.8,78.8 540.4,79.0 541.0,78.6 541.6,79.0 542.2,79.5 542.8,80.4 543.4,78.8 544.0,78.7 544.6,80.0 545.2,80.4 545.8,80.0 546.4,79.2 547.0,79.1 547.6,79.1 548.2,79.8 548.8,78.9 549.4,79.1 550.0,79.3 550.6,80.1 551.2,79.7 551.8,78.6 552.4,79.5 553.0,79.9 553.6,79.3 554.2,79.7 554.8,79.5 555.4,80.3 556.0,76.1 556.6,77.9 557.2,77.8 557.8,78.6 558.4,78.8 559.0,78.2 559.6,78.4 560.2,77.2 560.8,77.5 561.4,78.0 562.0,77.5 562.6,77.3 563.2,77.5 563.8,77.4 564.4,75.9 565.0,77.4 565.6,77.6 566.2,77.0 566.8,77.4 567.4,78.2 568.0,78.3 568.6,79.3 569.2,78.0 569.8,78.4 570.4,78.5 571.0,78.1 571.6,79.1 572.2,77.7 572.8,77.9 573.4,78.8 574.0,79.9 574.6,78.7 575.2,78.8 575.8,79.5 576.4,78.5 577.0,79.0 577.6,78.4 578.2,78.0 578.8,79.4 579.4,79.6 580.0,78.3 580.6,78.8 581.2,78.8 581.8,79.1 582.4,79.8 583.0,78.9 583.6,79.7 584.2,80.1 584.8,78.7 585.4,79.6 586.0,80.0 586.6,79.6 587.2,80.0 587.8,80.3 588.4,78.9 589.0,79.5 589.6,79.3 590.2,80.3 590.8,80.0 591.4,80.1 592.0,80.4 592.6,81.4 593.2,80.2 593.8,79.5 594.4,81.3 595.0,80.6 595.6,81.6 596.2,81.9 596.8,81.4 597.4,81.6 598.0,82.1 598.6,82.2 599.2,82.4 599.8,82.5 600.4,82.5 601.0,82.7 601.6,82.4 602.2,82.4 602.8,82.2 603.4,82.0 604.0,82.7 604.6,82.2 605.2,82.0 605.8,82.1 606.4,81.9 607.0,81.9 607.6,81.8 608.2,80.3 608.8,80.9 609.4,81.0 610.0,81.2 610.6,81.9 611.2,80.7 611.8,80.7 612.4,81.8 613.0,79.6 613.6,80.8 614.2,81.1 614.8,80.6 615.4,79.9 616.0,80.8 616.6,79.5 617.2,79.5 617.8,79.4 618.4,80.3 619.0,79.3 619.6,80.1 620.2,79.7 620.8,80.4 621.4,80.1 622.0,79.6 622.6,80.2 623.2,79.3 623.8,81.0 624.4,80.9 625.0,83.5 625.6,82.3 626.2,81.7 626.8,81.5 627.4,82.3 628.0,82.1 628.6,83.1 629.2,81.9 629.8,81.5 630.4,82.2 631.0,83.8 631.6,82.2 632.2,82.4 632.8,81.7 633.4,81.2 634.0,80.9 634.6,80.3 635.2,80.8 635.8,81.4 636.4,80.8 637.0,81.2 637.6,81.4 638.2,81.0 638.8,82.1 639.4,81.2 640.0,82.4 640.6,82.9 641.2,82.5 641.8,81.9 642.4,82.2 643.0,82.3 643.6,82.0 644.2,81.2 644.8,82.4 645.4,81.5 646.0,81.5 646.6,81.7 647.2,81.5 647.8,82.0 648.4,81.3" fill="none" stroke="#000" stroke-width="1.15" stroke-linejoin="miter" stroke-miterlimit="2"/><polyline points="81.4,87.7 82.0,88.2 82.6,88.1 83.2,89.3 83.8,89.4 84.4,90.7 85.0,90.7 85.6,90.9 86.2,90.7 86.8,92.0 87.4,91.5 88.0,92.5 88.6,93.5 89.2,93.7 89.8,93.3 90.4,92.0 91.0,93.0 91.6,91.5 92.2,91.1 92.8,89.0 93.4,88.6 94.0,88.4 94.6,87.1 95.2,87.4 95.8,87.8 96.4,89.4 97.0,91.4 97.6,89.0 98.2,89.0 98.8,88.5 99.4,88.8 100.0,87.5 100.6,88.3 101.2,87.3 101.8,88.0 102.4,87.6 103.0,87.5 103.6,87.6 104.2,87.3 104.8,87.4 105.4,87.9 106.0,87.5 106.6,87.7 107.2,87.5 107.8,87.1 108.4,88.5 109.0,85.9 109.6,86.3 110.2,86.0 110.8,86.5 111.4,85.5 112.0,86.5 112.6,86.1 113.2,85.4 113.8,85.7 114.4,85.6 115.0,85.0 115.6,84.6 116.2,84.5 116.8,84.2 117.4,84.1 118.0,84.4 118.6,83.7 119.2,85.8 119.8,83.9 120.4,83.6 121.0,83.7 121.6,83.1 122.2,85.4 122.8,83.8 123.4,83.7 124.0,83.7 124.6,84.4 125.2,84.2 125.8,83.8 126.4,83.4 127.0,84.2 127.6,84.2 128.2,84.4 128.8,84.7 129.4,84.8 130.0,84.7 130.6,84.4 131.2,84.0 131.8,84.3 132.4,84.3 133.0,84.1 133.6,83.5 134.2,83.5 134.8,83.6 135.4,84.3 136.0,83.8 136.6,84.1 137.2,84.1 137.8,84.4 138.4,84.0 139.0,84.1 139.6,84.1 140.2,84.3 140.8,84.0 141.4,83.7 142.0,84.3 142.6,84.5 143.2,83.8 143.8,84.4 144.4,84.3 145.0,84.3 145.6,84.5 146.2,84.9 146.8,84.1 147.4,84.7 148.0,85.0 148.6,85.2 149.2,84.7 149.8,84.2 150.4,84.0 151.0,84.5 151.6,83.5 152.2,84.2 152.8,83.9 153.4,83.8 154.0,83.5 154.6,83.8 155.2,83.7 155.8,84.2 156.4,83.4 157.0,84.2 157.6,83.7 158.2,84.3 158.8,84.0 159.4,84.6 160.0,84.3 160.6,85.4 161.2,85.7 161.8,84.7 162.4,84.7 163.0,85.0 163.6,85.2 164.2,85.4 164.8,85.3 165.4,85.3 166.0,84.8 166.6,85.1 167.2,85.1 167.8,85.3 168.4,84.6 169.0,84.9 169.6,83.4 170.2,85.0 170.8,84.8 171.4,84.4 172.0,84.5 172.6,84.9 173.2,84.4 173.8,84.7 174.4,84.7 175.0,84.5 175.6,84.7 176.2,84.6 176.8,84.8 177.4,84.6 178.0,84.5 178.6,84.9 179.2,84.8 179.8,84.9 180.4,84.7 181.0,84.9 181.6,85.6 182.2,84.8 182.8,85.0 183.4,85.0 184.0,85.7 184.6,86.2 185.2,85.1 185.8,85.5 186.4,85.6 187.0,86.2 187.6,85.7 188.2,86.9 188.8,87.1 189.4,87.3 190.0,87.6 190.6,88.3 191.2,88.7 191.8,88.5 192.4,88.5 193.0,89.6 193.6,88.3 194.2,89.4 194.8,89.2 195.4,89.6 196.0,88.3 196.6,89.5 197.2,89.7 197.8,89.1 198.4,88.9 199.0,89.9 199.6,91.2 200.2,92.0 200.8,92.0 201.4,91.8 202.0,91.9 202.6,93.2 203.2,94.2 203.8,94.0 204.4,94.9 205.0,93.4 205.6,92.2 206.2,92.4 206.8,91.8 207.4,91.1 208.0,91.1 208.6,89.6 209.2,89.8 209.8,89.2 210.4,89.8 211.0,90.6 211.6,91.7 212.2,92.1 212.8,92.5 213.4,93.8 214.0,94.1 214.6,94.5 215.2,96.4 215.8,97.3 216.4,97.7 217.0,97.1 217.6,98.9 218.2,97.2 218.8,98.6 219.4,100.5 220.0,100.0 220.6,100.9 221.2,101.6 221.8,101.9 222.4,98.1 223.0,100.2 223.6,98.4 224.2,99.2 224.8,99.4 225.4,98.0 226.0,97.4 226.6,98.8 227.2,100.6 227.8,97.1 228.4,96.6 229.0,98.2 229.6,98.9 230.2,97.9 230.8,99.3 231.4,99.9 232.0,98.0 232.6,99.2 233.2,101.3 233.8,101.7 234.4,98.8 235.0,98.5 235.6,98.1 236.2,95.2 236.8,95.6 237.4,96.4 238.0,95.9 238.6,96.7 239.2,96.8 239.8,95.1 240.4,96.2 241.0,97.3 241.6,95.1 242.2,96.1 242.8,96.3 243.4,96.9 244.0,95.5 244.6,96.0 245.2,95.7 245.8,94.7 246.4,93.4 247.0,93.7 247.6,93.3 248.2,92.7 248.8,92.0 249.4,92.6 250.0,93.8 250.6,92.9 251.2,93.0 251.8,93.0 252.4,92.2 253.0,91.4 253.6,92.4 254.2,91.9 254.8,91.1 255.4,90.4 256.0,90.9 256.6,90.1 257.2,90.4 257.8,90.0 258.4,90.5 259.0,90.6 259.6,90.2 260.2,89.6 260.8,89.8 261.4,91.7 262.0,90.3 262.6,90.4 263.2,90.5 263.8,91.3 264.4,90.8 265.0,93.5 265.6,91.3 266.2,92.0 266.8,90.3 267.4,90.5 268.0,89.7 268.6,88.1 269.2,88.2 269.8,88.8 270.4,89.3 271.0,89.1 271.6,88.8 272.2,89.7 272.8,91.0 273.4,90.6 274.0,90.9 274.6,90.3 275.2,88.9 275.8,89.4 276.4,89.5 277.0,88.9 277.6,87.5 278.2,87.3 278.8,86.9 279.4,85.6 280.0,87.0 280.6,85.9 281.2,85.4 281.8,85.4 282.4,85.1 283.0,85.6 283.6,84.7 284.2,85.1 284.8,84.1 285.4,85.1 286.0,85.1 286.6,84.5 287.2,84.6 287.8,85.0 288.4,85.6 289.0,84.0 289.6,85.7 290.2,85.0 290.8,84.9 291.4,84.8 292.0,85.1 292.6,85.2 293.2,84.7 293.8,85.4 294.4,85.2 295.0,85.0 295.6,85.2 296.2,84.7 296.8,84.7 297.4,85.6 298.0,86.5 298.6,84.7 299.2,85.3 299.8,84.8 300.4,85.3 301.0,85.4 301.6,85.1 302.2,85.5 302.8,85.7 303.4,85.2 304.0,84.4 304.6,85.0 305.2,84.8 305.8,84.9 306.4,84.9 307.0,84.4 307.6,85.2 308.2,84.6 308.8,85.0 309.4,84.1 310.0,84.3 310.6,85.3 311.2,86.4 311.8,84.7 312.4,84.7 313.0,85.2 313.6,85.0 314.2,85.1 314.8,85.6 315.4,85.4 316.0,84.9 316.6,85.2 317.2,84.3 317.8,85.2 318.4,84.4 319.0,85.8 319.6,85.2 320.2,85.3 320.8,85.4 321.4,84.8 322.0,84.7 322.6,85.3 323.2,85.0 323.8,84.2 324.4,84.9 325.0,85.2 325.6,84.7 326.2,85.0 326.8,84.9 327.4,85.2 328.0,84.8 328.6,85.3 329.2,84.6 329.8,85.1 330.4,85.1 331.0,85.3 331.6,84.6 332.2,85.4 332.8,85.3 333.4,85.8 334.0,85.8 334.6,85.7 335.2,85.6 335.8,85.4 336.4,85.5 337.0,85.2 337.6,85.2 338.2,84.6 338.8,84.4 339.4,85.0 340.0,85.3 340.6,85.3 341.2,85.3 341.8,84.8 342.4,85.2 343.0,86.4 343.6,85.3 344.2,85.0 344.8,85.5 345.4,84.3 346.0,85.1 346.6,84.6 347.2,85.4 347.8,85.1 348.4,85.1 349.0,85.3 349.6,85.1 350.2,85.4 350.8,85.9 351.4,85.1 352.0,86.0 352.6,85.4 353.2,85.6 353.8,85.3 354.4,85.7 355.0,86.2 355.6,85.4 356.2,86.2 356.8,85.4 357.4,85.1 358.0,85.6 358.6,85.4 359.2,85.0 359.8,85.3 360.4,85.1 361.0,85.3 361.6,85.6 362.2,85.2 362.8,85.6 363.4,85.5 364.0,85.4 364.6,86.1 365.2,85.3 365.8,86.2 366.4,85.1 367.0,86.0 367.6,85.8 368.2,86.1 368.8,85.8 369.4,85.5 370.0,85.2 370.6,86.3 371.2,85.3 371.8,86.1 372.4,85.2 373.0,84.9 373.6,85.5 374.2,85.0 374.8,85.5 375.4,85.7 376.0,85.0 376.6,85.8 377.2,85.2 377.8,85.6 378.4,85.8 379.0,85.6 379.6,86.1 380.2,84.9 380.8,86.0 381.4,85.4 382.0,86.0 382.6,86.9 383.2,87.9 383.8,88.0 384.4,88.4 385.0,88.3 385.6,87.6 386.2,86.7 386.8,85.8 387.4,85.3 388.0,85.8 388.6,85.9 389.2,86.8 389.8,85.7 390.4,86.0 391.0,86.1 391.6,85.3 392.2,85.3 392.8,85.7 393.4,84.5 394.0,85.0 394.6,84.9 395.2,85.3 395.8,84.4 396.4,84.8 397.0,84.6 397.6,83.9 398.2,84.8 398.8,84.6 399.4,84.7 400.0,84.4 400.6,83.2 401.2,84.2 401.8,84.2 402.4,84.7 403.0,85.6 403.6,85.7 404.2,85.6 404.8,85.4 405.4,85.4 406.0,86.9 406.6,86.5 407.2,86.9 407.8,87.0 408.4,86.0 409.0,86.8 409.6,87.1 410.2,86.4 410.8,86.2 411.4,86.7 412.0,86.4 412.6,85.8 413.2,86.2 413.8,85.6 414.4,85.4 415.0,85.7 415.6,86.1 416.2,85.8 416.8,85.5 417.4,85.7 418.0,86.1 418.6,85.2 419.2,86.1 419.8,86.3 420.4,85.8 421.0,86.3 421.6,85.8 422.2,86.6 422.8,85.7 423.4,85.9 424.0,86.2 424.6,86.2 425.2,85.9 425.8,85.1 426.4,86.7 427.0,86.1 427.6,85.9 428.2,86.6 428.8,87.0 429.4,87.0 430.0,87.6 430.6,86.2 431.2,86.7 431.8,86.0 432.4,86.2 433.0,85.5 433.6,85.2 434.2,85.2 434.8,84.6 435.4,84.3 436.0,84.3 436.6,84.5 437.2,84.6 437.8,85.0 438.4,85.2 439.0,85.1 439.6,84.9 440.2,84.4 440.8,84.9 441.4,85.5 442.0,85.3 442.6,85.5 443.2,85.1 443.8,86.1 444.4,86.2 445.0,86.7 445.6,86.6 446.2,86.7 446.8,87.5 447.4,87.7 448.0,88.0 448.6,87.8 449.2,88.6 449.8,88.6 450.4,88.3 451.0,89.0 451.6,89.5 452.2,88.7 452.8,89.6 453.4,88.4 454.0,88.9 454.6,88.7 455.2,89.2 455.8,88.2 456.4,88.8 457.0,89.1 457.6,87.8 458.2,89.0 458.8,88.9 459.4,87.8 460.0,87.7 460.6,87.6 461.2,87.0 461.8,87.3 462.4,87.2 463.0,86.7 463.6,86.8 464.2,87.0 464.8,87.3 465.4,86.9 466.0,87.1 466.6,87.6 467.2,86.9 467.8,86.6 468.4,87.7 469.0,86.6 469.6,86.5 470.2,87.1 470.8,87.8 471.4,88.6 472.0,88.2 472.6,88.0 473.2,89.7 473.8,89.0 474.4,89.6 475.0,88.4 475.6,88.0 476.2,88.1 476.8,87.2 477.4,88.0 478.0,87.4 478.6,87.4 479.2,87.5 479.8,86.9 480.4,88.2 481.0,87.8 481.6,88.6 482.2,88.4 482.8,88.0 483.4,88.8 484.0,89.1 484.6,90.8 485.2,91.2 485.8,91.9 486.4,91.8 487.0,90.2 487.6,89.2 488.2,88.1 488.8,88.5 489.4,87.7 490.0,87.7 490.6,86.4 491.2,86.6 491.8,87.8 492.4,86.0 493.0,86.7 493.6,86.6 494.2,86.4 494.8,86.2 495.4,86.5 496.0,85.9 496.6,86.4 497.2,85.4 497.8,85.2 498.4,84.7 499.0,86.2 499.6,85.7 500.2,85.7 500.8,84.9 501.4,85.1 502.0,85.4 502.6,85.3 503.2,84.7 503.8,84.8 504.4,84.7 505.0,84.8 505.6,85.3 506.2,85.7 506.8,85.4 507.4,84.8 508.0,85.8 508.6,86.0 509.2,84.4 509.8,85.1 510.4,84.8 511.0,85.5 511.6,85.3 512.2,85.9 512.8,85.8 513.4,85.9 514.0,86.5 514.6,86.8 515.2,87.0 515.8,87.9 516.4,87.9 517.0,87.6 517.6,87.6 518.2,86.9 518.8,86.6 519.4,85.8 520.0,85.9 520.6,85.0 521.2,85.0 521.8,85.2 522.4,84.5 523.0,85.4 523.6,84.9 524.2,84.1 524.8,83.7 525.4,83.4 526.0,83.7 526.6,84.2 527.2,84.2 527.8,84.9 528.4,85.3 529.0,85.0 529.6,84.6 530.2,85.3 530.8,85.8 531.4,85.0 532.0,86.5 532.6,86.1 533.2,86.9 533.8,87.2 534.4,86.6 535.0,87.5 535.6,87.9 536.2,87.8 536.8,87.7 537.4,87.8 538.0,87.5 538.6,88.0 539.2,86.8 539.8,87.6 540.4,87.7 541.0,88.2 541.6,87.2 542.2,88.0 542.8,87.5 543.4,87.8 544.0,87.5 544.6,87.8 545.2,87.0 545.8,87.0 546.4,86.3 547.0,86.7 547.6,87.5 548.2,86.6 548.8,86.5 549.4,87.0 550.0,87.0 550.6,86.4 551.2,86.0 551.8,86.7 552.4,86.3 553.0,86.1 553.6,85.7 554.2,85.7 554.8,85.7 555.4,86.2 556.0,85.5 556.6,84.8 557.2,85.6 557.8,84.5 558.4,84.9 559.0,85.6 559.6,85.0 560.2,84.5 560.8,84.6 561.4,84.9 562.0,84.7 562.6,84.3 563.2,84.4 563.8,84.5 564.4,84.9 565.0,85.5 565.6,85.2 566.2,84.9 566.8,85.4 567.4,85.5 568.0,86.1 568.6,86.4 569.2,86.0 569.8,86.9 570.4,86.6 571.0,86.8 571.6,86.3 572.2,86.5 572.8,86.9 573.4,86.7 574.0,85.6 574.6,86.2 575.2,85.9 575.8,86.6 576.4,86.4 577.0,86.7 577.6,85.4 578.2,86.8 578.8,86.2 579.4,86.0 580.0,86.0 580.6,86.7 581.2,86.0 581.8,86.3 582.4,85.9 583.0,86.3 583.6,87.2 584.2,86.7 584.8,86.0 585.4,86.9 586.0,87.7 586.6,87.2 587.2,87.6 587.8,88.1 588.4,87.6 589.0,87.7 589.6,88.4 590.2,89.9 590.8,89.2 591.4,89.1 592.0,88.0 592.6,89.3 593.2,87.9 593.8,88.0 594.4,86.9 595.0,87.3 595.6,86.4 596.2,85.2 596.8,84.2 597.4,83.9 598.0,84.8 598.6,87.3 599.2,88.7 599.8,88.7 600.4,88.8 601.0,88.8 601.6,88.0 602.2,88.5 602.8,88.2 603.4,87.8 604.0,88.4 604.6,87.8 605.2,90.8 605.8,88.4 606.4,88.2 607.0,90.3 607.6,89.0 608.2,88.9 608.8,88.4 609.4,88.8 610.0,87.8 610.6,88.0 611.2,87.9 611.8,88.2 612.4,88.2 613.0,87.7 613.6,86.8 614.2,87.6 614.8,87.1 615.4,87.3 616.0,89.4 616.6,87.8 617.2,87.2 617.8,86.3 618.4,86.9 619.0,87.6 619.6,87.3 620.2,88.4 620.8,88.7 621.4,88.2 622.0,87.8 622.6,88.2 623.2,88.9 623.8,89.1 624.4,88.8 625.0,89.2 625.6,90.7 626.2,89.6 626.8,89.7 627.4,91.1 628.0,90.4 628.6,92.0 629.2,88.2 629.8,91.3 630.4,90.8 631.0,89.6 631.6,90.1 632.2,89.2 632.8,89.0 633.4,88.5 634.0,89.4 634.6,88.8 635.2,88.7 635.8,88.2 636.4,88.1 637.0,88.3 637.6,88.9 638.2,87.8 638.8,87.4 639.4,88.2 640.0,87.9 640.6,87.5 641.2,89.8 641.8,87.7 642.4,87.5 643.0,88.4 643.6,89.9 644.2,87.7 644.8,88.0 645.4,87.8 646.0,86.9 646.6,87.4 647.2,87.2 647.8,87.1 648.4,87.2" fill="none" stroke="#000" stroke-width="1.15" stroke-linejoin="miter" stroke-miterlimit="2"/>
<rect x="46.1" y="111.65" width="3.9" height="1.7" fill="#000"/><rect x="38.9" y="139.65" width="3.9" height="1.7" fill="#000"/><rect x="38.9" y="168.65" width="3.9" height="1.7" fill="#000"/><rect x="38.9" y="196.65" width="3.9" height="1.7" fill="#000"/>






<rect x="81" y="234" width="568" height="6.5" fill="url(#g1)"/><rect x="81.5" y="234.5" width="567" height="5.5" fill="none" stroke="rgba(90,50,0,0.3)" stroke-width="1" shape-rendering="crispEdges"/>
<g stroke="rgba(0,0,0,0.275)" stroke-width="1" shape-rendering="crispEdges"><line x1="81.5" y1="254" x2="81.5" y2="396"/><line x1="105.5" y1="254" x2="105.5" y2="396"/><line x1="128.5" y1="254" x2="128.5" y2="396"/><line x1="152.5" y1="254" x2="152.5" y2="396"/><line x1="176.5" y1="254" x2="176.5" y2="396"/><line x1="199.5" y1="254" x2="199.5" y2="396"/><line x1="223.5" y1="254" x2="223.5" y2="396"/><line x1="247.5" y1="254" x2="247.5" y2="396"/><line x1="270.5" y1="254" x2="270.5" y2="396"/><line x1="294.5" y1="254" x2="294.5" y2="396"/><line x1="317.5" y1="254" x2="317.5" y2="396"/><line x1="341.5" y1="254" x2="341.5" y2="396"/><line x1="365.5" y1="254" x2="365.5" y2="396"/><line x1="388.5" y1="254" x2="388.5" y2="396"/><line x1="412.5" y1="254" x2="412.5" y2="396"/><line x1="436.5" y1="254" x2="436.5" y2="396"/><line x1="459.5" y1="254" x2="459.5" y2="396"/><line x1="483.5" y1="254" x2="483.5" y2="396"/><line x1="506.5" y1="254" x2="506.5" y2="396"/><line x1="530.5" y1="254" x2="530.5" y2="396"/><line x1="554.5" y1="254" x2="554.5" y2="396"/><line x1="577.5" y1="254" x2="577.5" y2="396"/><line x1="601.5" y1="254" x2="601.5" y2="396"/><line x1="625.5" y1="254" x2="625.5" y2="396"/><line x1="648.5" y1="254" x2="648.5" y2="396"/><line x1="81" y1="254.5" x2="649" y2="254.5"/><line x1="81" y1="282.5" x2="649" y2="282.5"/><line x1="81" y1="310.5" x2="649" y2="310.5"/><line x1="81" y1="339.5" x2="649" y2="339.5"/><line x1="81" y1="367.5" x2="649" y2="367.5"/><line x1="81" y1="395.5" x2="649" y2="395.5"/></g>
<polygon points="81.3,352.4 81.9,353.9 82.5,352.7 83.1,354.3 83.7,355.1 84.3,354.9 84.9,355.2 85.5,355.2 86.1,353.7 86.7,355.4 87.3,355.0 87.9,354.5 88.5,354.1 89.1,354.3 89.7,348.8 90.3,351.6 90.9,351.1 91.5,354.4 92.1,354.7 92.7,354.1 93.3,355.2 93.9,358.2 94.5,358.9 95.1,358.1 95.7,355.8 96.3,358.4 96.9,357.8 97.5,356.4 98.1,355.8 98.7,356.4 99.3,355.8 99.9,357.5 100.5,355.8 101.1,355.5 101.7,356.3 102.3,358.8 102.9,359.2 103.5,358.3 104.1,356.2 104.7,358.7 105.3,355.6 105.9,356.7 106.5,357.5 107.1,359.1 107.7,359.1 108.3,359.1 108.9,359.8 109.5,360.8 110.1,360.6 110.7,359.6 111.3,360.6 111.9,358.9 112.5,359.0 113.1,358.7 113.7,359.8 114.3,357.1 114.9,358.1 115.5,356.8 116.1,355.0 116.7,353.7 117.3,358.0 117.9,356.3 118.5,356.7 119.1,358.5 119.7,359.7 120.3,356.0 120.9,358.6 121.5,358.6 122.1,360.5 122.7,358.2 123.3,358.5 123.9,358.8 124.5,359.9 125.1,358.4 125.7,360.1 126.3,360.8 126.9,359.6 127.5,360.3 128.1,360.3 128.7,357.9 129.3,358.8 129.9,358.3 130.5,357.8 131.1,358.8 131.7,360.0 132.3,356.8 132.9,358.2 133.5,359.0 134.1,357.4 134.7,357.8 135.3,358.5 135.9,357.9 136.5,360.1 137.1,357.9 137.7,359.1 138.3,359.6 138.9,358.8 139.5,357.6 140.1,357.4 140.7,356.8 141.3,359.0 141.9,357.2 142.5,359.7 143.1,358.8 143.7,359.4 144.3,359.8 144.9,358.3 145.5,359.7 146.1,360.2 146.7,359.5 147.3,360.1 147.9,361.0 148.5,361.1 149.1,361.2 149.7,358.6 150.3,359.4 150.9,359.8 151.5,360.6 152.1,362.7 152.7,362.0 153.3,361.7 153.9,360.8 154.5,360.4 155.1,360.7 155.7,359.9 156.3,359.4 156.9,356.1 157.5,357.4 158.1,358.0 158.7,359.0 159.3,358.8 159.9,359.4 160.5,358.0 161.1,356.4 161.7,356.6 162.3,358.1 162.9,359.9 163.5,359.7 164.1,359.9 164.7,359.4 165.3,359.9 165.9,360.5 166.5,361.3 167.1,358.8 167.7,359.7 168.3,361.2 168.9,361.0 169.5,361.1 170.1,360.6 170.7,359.6 171.3,360.8 171.9,360.1 172.5,361.9 173.1,360.5 173.7,360.7 174.3,359.4 174.9,357.1 175.5,359.2 176.1,359.0 176.7,359.1 177.3,357.3 177.9,357.2 178.5,359.8 179.1,359.7 179.7,361.1 180.3,361.4 180.9,360.5 181.5,361.6 182.1,361.7 182.7,362.4 183.3,361.9 183.9,362.6 184.5,361.4 185.1,359.7 185.7,359.2 186.3,360.6 186.9,358.5 187.5,358.4 188.1,357.3 188.7,355.7 189.3,355.5 189.9,357.0 190.5,355.0 191.1,357.5 191.7,354.7 192.3,356.9 192.9,357.1 193.5,358.3 194.1,358.8 194.7,356.7 195.3,357.2 195.9,358.3 196.5,356.9 197.1,359.3 197.7,356.8 198.3,358.5 198.9,356.3 199.5,354.5 200.1,353.8 200.7,354.4 201.3,352.8 201.9,352.5 202.5,350.9 203.1,351.2 203.7,351.2 204.3,349.0 204.9,352.1 205.5,351.8 206.1,354.8 206.7,353.9 207.3,353.8 207.9,352.8 208.5,353.5 209.1,356.1 209.7,355.2 210.3,356.8 210.9,358.6 211.5,357.7 212.1,357.5 212.7,355.7 213.3,351.8 213.9,353.9 214.5,349.5 215.1,350.3 215.7,349.6 216.3,347.9 216.9,348.1 217.5,346.5 218.1,345.0 218.7,345.3 219.3,344.3 219.9,340.4 220.5,343.0 221.1,343.9 221.7,343.1 222.3,343.9 222.9,343.4 223.5,343.9 224.1,346.0 224.7,349.0 225.3,350.4 225.9,348.3 226.5,349.8 227.1,347.6 227.7,345.5 228.3,347.1 228.9,347.2 229.5,348.7 230.1,347.5 230.7,346.1 231.3,347.8 231.9,343.8 232.5,341.9 233.1,344.5 233.7,345.0 234.3,346.9 234.9,350.1 235.5,349.4 236.1,352.2 236.7,349.9 237.3,350.3 237.9,352.6 238.5,351.1 239.1,348.7 239.7,350.6 240.3,353.9 240.9,349.9 241.5,350.3 242.1,351.9 242.7,348.6 243.3,352.1 243.9,352.4 244.5,351.1 245.1,350.2 245.7,350.6 246.3,352.2 246.9,353.9 247.5,353.9 248.1,354.0 248.7,354.7 249.3,355.4 249.9,356.7 250.5,357.2 251.1,351.7 251.7,353.6 252.3,353.6 252.9,352.8 253.5,354.3 254.1,354.3 254.7,354.1 255.3,355.5 255.9,356.8 256.5,355.2 257.1,353.2 257.7,354.3 258.3,353.6 258.9,353.6 259.5,355.6 260.1,359.0 260.7,355.5 261.3,356.0 261.9,356.4 262.5,357.5 263.1,354.8 263.7,356.8 264.3,356.6 264.9,357.5 265.5,355.3 266.1,355.4 266.7,356.4 267.3,356.1 267.9,356.4 268.5,356.7 269.1,356.9 269.7,356.4 270.3,356.9 270.9,356.6 271.5,356.2 272.1,357.3 272.7,355.1 273.3,355.6 273.9,356.7 274.5,356.4 275.1,357.1 275.7,356.7 276.3,358.1 276.9,358.3 277.5,358.9 278.1,358.9 278.7,358.9 279.3,359.0 279.9,359.6 280.5,360.0 281.1,359.4 281.7,359.5 282.3,361.9 282.9,360.4 283.5,361.1 284.1,360.9 284.7,361.2 285.3,360.9 285.9,361.0 286.5,362.0 287.1,360.0 287.7,361.5 288.3,360.7 288.9,361.0 289.5,360.9 290.1,360.7 290.7,360.7 291.3,361.6 291.9,361.2 292.5,360.6 293.1,362.4 293.7,362.2 294.3,361.8 294.9,361.9 295.5,360.1 296.1,359.3 296.7,361.6 297.3,361.9 297.9,360.6 298.5,362.8 299.1,361.5 299.7,363.9 300.3,361.9 300.9,361.4 301.5,361.0 302.1,362.6 302.7,360.3 303.3,359.8 303.9,360.8 304.5,360.6 305.1,358.9 305.7,359.7 306.3,360.1 306.9,360.9 307.5,360.8 308.1,360.5 308.7,361.9 309.3,363.4 309.9,360.7 310.5,362.6 311.1,362.4 311.7,362.1 312.3,362.7 312.9,362.0 313.5,360.8 314.1,362.3 314.7,361.6 315.3,362.0 315.9,361.6 316.5,362.7 317.1,363.1 317.7,360.4 318.3,363.2 318.9,362.3 319.5,361.1 320.1,360.8 320.7,362.2 321.3,362.5 321.9,362.1 322.5,362.8 323.1,361.8 323.7,362.4 324.3,361.4 324.9,362.2 325.5,361.8 326.1,362.0 326.7,362.4 327.3,361.8 327.9,362.7 328.5,362.4 329.1,361.8 329.7,361.6 330.3,362.2 330.9,362.0 331.5,361.9 332.1,361.5 332.7,361.5 333.3,361.3 333.9,362.0 334.5,361.4 335.1,362.5 335.7,363.1 336.3,360.1 336.9,362.8 337.5,361.3 338.1,360.6 338.7,362.4 339.3,362.5 339.9,361.8 340.5,362.4 341.1,362.1 341.7,361.8 342.3,361.9 342.9,362.0 343.5,361.8 344.1,361.3 344.7,361.5 345.3,360.8 345.9,361.0 346.5,361.7 347.1,360.3 347.7,360.8 348.3,360.0 348.9,360.6 349.5,359.8 350.1,359.3 350.7,359.8 351.3,357.2 351.9,358.4 352.5,358.7 353.1,358.8 353.7,358.3 354.3,359.7 354.9,356.8 355.5,359.4 356.1,359.2 356.7,357.6 357.3,358.6 357.9,359.0 358.5,359.6 359.1,359.0 359.7,358.6 360.3,356.0 360.9,359.0 361.5,358.4 362.1,358.3 362.7,356.9 363.3,356.2 363.9,358.4 364.5,358.9 365.1,356.6 365.7,358.6 366.3,358.2 366.9,359.0 367.5,358.5 368.1,359.2 368.7,359.8 369.3,359.8 369.9,359.3 370.5,358.4 371.1,357.6 371.7,359.8 372.3,359.6 372.9,359.6 373.5,358.1 374.1,360.8 374.7,360.3 375.3,358.9 375.9,358.2 376.5,357.9 377.1,359.9 377.7,358.9 378.3,358.7 378.9,357.5 379.5,357.3 380.1,357.1 380.7,358.7 381.3,356.3 381.9,357.3 382.5,356.4 383.1,356.1 383.7,355.9 384.3,356.5 384.9,355.1 385.5,355.9 386.1,357.5 386.7,358.8 387.3,359.7 387.9,357.5 388.5,359.7 389.1,358.5 389.7,357.8 390.3,357.5 390.9,356.8 391.5,360.0 392.1,356.2 392.7,358.7 393.3,358.7 393.9,359.6 394.5,358.9 395.1,358.4 395.7,360.6 396.3,359.7 396.9,360.9 397.5,359.6 398.1,359.3 398.7,358.0 399.3,358.5 399.9,358.3 400.5,357.1 401.1,355.9 401.7,357.9 402.3,359.7 402.9,359.5 403.5,360.3 404.1,358.9 404.7,358.3 405.3,357.9 405.9,355.5 406.5,357.8 407.1,356.4 407.7,356.2 408.3,356.4 408.9,356.0 409.5,358.3 410.1,356.9 410.7,359.0 411.3,359.0 411.9,360.0 412.5,359.2 413.1,359.3 413.7,356.7 414.3,359.6 414.9,358.9 415.5,358.1 416.1,358.4 416.7,360.5 417.3,360.9 417.9,360.1 418.5,360.0 419.1,362.5 419.7,358.8 420.3,358.8 420.9,360.2 421.5,360.3 422.1,359.0 422.7,361.0 423.3,360.0 423.9,361.0 424.5,360.0 425.1,360.0 425.7,360.3 426.3,361.7 426.9,360.8 427.5,360.2 428.1,360.8 428.7,360.2 429.3,360.9 429.9,359.9 430.5,360.1 431.1,360.5 431.7,359.7 432.3,361.7 432.9,359.8 433.5,359.4 434.1,361.5 434.7,361.1 435.3,360.2 435.9,360.3 436.5,361.1 437.1,359.9 437.7,361.5 438.3,360.4 438.9,360.9 439.5,361.6 440.1,360.8 440.7,359.8 441.3,361.5 441.9,361.9 442.5,361.1 443.1,361.4 443.7,361.3 444.3,361.3 444.9,360.8 445.5,361.0 446.1,360.6 446.7,360.6 447.3,359.7 447.9,359.9 448.5,361.1 449.1,359.6 449.7,360.3 450.3,360.1 450.9,359.7 451.5,359.1 452.1,360.4 452.7,358.1 453.3,360.0 453.9,359.6 454.5,360.8 455.1,360.8 455.7,360.4 456.3,359.0 456.9,358.7 457.5,359.3 458.1,359.0 458.7,357.3 459.3,357.7 459.9,357.8 460.5,359.5 461.1,359.6 461.7,358.9 462.3,359.1 462.9,359.3 463.5,359.6 464.1,360.8 464.7,361.6 465.3,358.7 465.9,361.4 466.5,362.3 467.1,361.6 467.7,360.9 468.3,361.5 468.9,361.9 469.5,360.7 470.1,361.5 470.7,362.1 471.3,362.3 471.9,360.7 472.5,360.8 473.1,359.6 473.7,358.7 474.3,359.1 474.9,359.4 475.5,358.5 476.1,358.9 476.7,360.1 477.3,360.6 477.9,359.7 478.5,360.8 479.1,362.2 479.7,360.8 480.3,358.8 480.9,359.5 481.5,359.6 482.1,359.9 482.7,358.7 483.3,359.2 483.9,358.7 484.5,357.7 485.1,358.6 485.7,356.8 486.3,357.3 486.9,360.2 487.5,359.9 488.1,360.9 488.7,358.0 489.3,359.3 489.9,359.0 490.5,359.5 491.1,360.5 491.7,360.5 492.3,359.1 492.9,359.3 493.5,359.9 494.1,361.4 494.7,360.3 495.3,361.0 495.9,361.9 496.5,361.7 497.1,362.1 497.7,362.1 498.3,362.4 498.9,361.8 499.5,362.6 500.1,363.8 500.7,362.7 501.3,362.2 501.9,362.0 502.5,363.2 503.1,363.1 503.7,364.0 504.3,363.4 504.9,362.7 505.5,364.8 506.1,363.7 506.7,363.3 507.3,362.7 507.9,364.1 508.5,362.0 509.1,362.7 509.7,362.0 510.3,362.9 510.9,362.7 511.5,361.7 512.1,360.2 512.7,361.6 513.3,361.2 513.9,361.7 514.5,362.7 515.1,359.8 515.7,358.3 516.3,360.4 516.9,359.3 517.5,359.2 518.1,359.7 518.7,360.0 519.3,360.6 519.9,360.6 520.5,361.2 521.1,363.6 521.7,361.3 522.3,361.1 522.9,361.1 523.5,361.3 524.1,361.1 524.7,362.0 525.3,359.9 525.9,361.7 526.5,360.5 527.1,361.2 527.7,362.4 528.3,361.6 528.9,361.5 529.5,359.7 530.1,363.2 530.7,363.0 531.3,361.6 531.9,361.4 532.5,363.0 533.1,360.3 533.7,360.5 534.3,359.9 534.9,358.3 535.5,360.1 536.1,356.9 536.7,359.2 537.3,358.7 537.9,360.3 538.5,358.6 539.1,358.8 539.7,357.5 540.3,359.0 540.9,357.5 541.5,359.1 542.1,356.9 542.7,359.1 543.3,357.6 543.9,358.2 544.5,358.2 545.1,357.4 545.7,360.5 546.3,359.0 546.9,357.9 547.5,360.2 548.1,358.4 548.7,358.9 549.3,360.6 549.9,360.2 550.5,363.4 551.1,359.1 551.7,360.1 552.3,360.5 552.9,360.3 553.5,359.7 554.1,360.1 554.7,360.8 555.3,361.6 555.9,360.8 556.5,360.4 557.1,360.9 557.7,360.8 558.3,359.8 558.9,360.5 559.5,359.8 560.1,360.8 560.7,359.5 561.3,360.2 561.9,360.4 562.5,359.2 563.1,360.5 563.7,359.9 564.3,359.8 564.9,360.5 565.5,360.2 566.1,358.9 566.7,355.9 567.3,359.9 567.9,358.7 568.5,359.6 569.1,358.9 569.7,360.6 570.3,357.6 570.9,360.3 571.5,360.4 572.1,358.7 572.7,361.0 573.3,360.1 573.9,360.4 574.5,361.0 575.1,362.0 575.7,361.0 576.3,360.7 576.9,363.3 577.5,359.8 578.1,362.4 578.7,362.3 579.3,357.7 579.9,359.5 580.5,360.8 581.1,360.5 581.7,361.4 582.3,361.3 582.9,360.3 583.5,360.7 584.1,360.4 584.7,360.2 585.3,361.8 585.9,360.4 586.5,361.0 587.1,358.6 587.7,361.1 588.3,360.1 588.9,357.8 589.5,358.2 590.1,357.1 590.7,359.2 591.3,359.1 591.9,359.8 592.5,359.3 593.1,359.9 593.7,360.2 594.3,360.9 594.9,363.9 595.5,362.0 596.1,360.5 596.7,361.4 597.3,360.3 597.9,363.4 598.5,362.4 599.1,362.9 599.7,361.9 600.3,361.7 600.9,361.6 601.5,361.6 602.1,361.7 602.7,362.0 603.3,361.0 603.9,360.9 604.5,360.8 605.1,360.3 605.7,359.9 606.3,359.8 606.9,359.2 607.5,359.3 608.1,360.2 608.7,360.5 609.3,360.3 609.9,360.2 610.5,361.3 611.1,360.8 611.7,361.1 612.3,360.4 612.9,360.6 613.5,361.0 614.1,361.4 614.7,360.4 615.3,361.1 615.9,360.9 616.5,359.5 617.1,360.9 617.7,361.1 618.3,360.1 618.9,358.4 619.5,359.9 620.1,359.4 620.7,359.6 621.3,359.6 621.9,359.3 622.5,360.3 623.1,359.3 623.7,359.0 624.3,358.8 624.9,359.5 625.5,359.1 626.1,358.7 626.7,358.9 627.3,356.9 627.9,357.1 628.5,357.8 629.1,357.7 629.7,358.4 630.3,360.4 630.9,359.4 631.5,362.2 632.1,361.1 632.7,361.5 633.3,361.2 633.9,359.0 634.5,361.1 635.1,360.4 635.7,359.9 636.3,360.5 636.9,359.4 637.5,360.0 638.1,360.8 638.7,360.9 639.3,362.0 639.9,361.2 640.5,362.0 641.1,361.8 641.7,361.6 642.3,361.3 642.9,361.4 643.5,361.3 644.1,362.1 644.7,361.3 645.3,362.0 645.9,361.9 646.5,361.4 647.1,362.3 647.7,362.0 648.3,362.2 648.3,367.4 647.7,367.6 647.1,367.8 646.5,367.6 645.9,368.6 645.3,368.2 644.7,368.1 644.1,368.1 643.5,368.6 642.9,368.7 642.3,368.4 641.7,368.2 641.1,369.3 640.5,368.3 639.9,368.4 639.3,369.7 638.7,368.5 638.1,368.2 637.5,368.1 636.9,368.1 636.3,367.7 635.7,368.4 635.1,368.3 634.5,367.8 633.9,368.4 633.3,369.2 632.7,368.7 632.1,368.6 631.5,369.9 630.9,370.0 630.3,369.4 629.7,370.3 629.1,369.9 628.5,369.6 627.9,369.0 627.3,368.9 626.7,369.0 626.1,368.1 625.5,367.8 624.9,368.4 624.3,367.6 623.7,367.6 623.1,367.4 622.5,367.4 621.9,367.8 621.3,367.4 620.7,369.0 620.1,367.4 619.5,367.3 618.9,367.0 618.3,366.9 617.7,367.5 617.1,367.5 616.5,367.6 615.9,367.9 615.3,367.9 614.7,367.9 614.1,367.7 613.5,367.8 612.9,368.1 612.3,368.1 611.7,367.8 611.1,367.7 610.5,367.9 609.9,368.7 609.3,366.9 608.7,368.0 608.1,368.0 607.5,368.9 606.9,368.1 606.3,368.1 605.7,368.7 605.1,368.9 604.5,368.5 603.9,368.1 603.3,368.7 602.7,368.6 602.1,368.1 601.5,368.0 600.9,368.4 600.3,368.0 599.7,368.4 599.1,367.9 598.5,366.1 597.9,365.3 597.3,366.0 596.7,366.3 596.1,366.8 595.5,366.7 594.9,367.9 594.3,367.4 593.7,367.9 593.1,367.5 592.5,367.8 591.9,367.6 591.3,367.4 590.7,367.3 590.1,367.3 589.5,367.2 588.9,367.5 588.3,367.5 587.7,366.8 587.1,367.4 586.5,366.4 585.9,366.5 585.3,367.0 584.7,368.0 584.1,367.0 583.5,366.3 582.9,366.5 582.3,366.3 581.7,366.5 581.1,366.9 580.5,365.7 579.9,366.6 579.3,366.4 578.7,366.1 578.1,365.6 577.5,366.4 576.9,366.5 576.3,365.5 575.7,365.9 575.1,365.5 574.5,365.6 573.9,365.8 573.3,365.8 572.7,365.5 572.1,365.6 571.5,366.2 570.9,365.6 570.3,365.2 569.7,365.0 569.1,365.1 568.5,365.4 567.9,365.0 567.3,365.1 566.7,364.6 566.1,365.4 565.5,365.0 564.9,363.9 564.3,364.6 563.7,364.8 563.1,364.4 562.5,364.5 561.9,364.8 561.3,364.3 560.7,365.6 560.1,364.4 559.5,365.0 558.9,364.3 558.3,364.7 557.7,365.3 557.1,364.8 556.5,365.3 555.9,365.4 555.3,365.5 554.7,364.9 554.1,365.3 553.5,365.4 552.9,365.2 552.3,365.6 551.7,366.0 551.1,365.7 550.5,365.6 549.9,365.5 549.3,366.0 548.7,365.8 548.1,365.8 547.5,365.7 546.9,365.9 546.3,365.8 545.7,367.0 545.1,366.2 544.5,366.7 543.9,366.6 543.3,366.8 542.7,365.4 542.1,366.6 541.5,366.3 540.9,366.6 540.3,366.2 539.7,367.3 539.1,366.6 538.5,366.8 537.9,366.4 537.3,366.5 536.7,366.3 536.1,366.4 535.5,366.1 534.9,365.9 534.3,364.9 533.7,365.4 533.1,365.4 532.5,365.1 531.9,365.9 531.3,364.6 530.7,365.2 530.1,365.8 529.5,364.7 528.9,365.0 528.3,365.1 527.7,365.2 527.1,364.9 526.5,366.3 525.9,365.3 525.3,365.9 524.7,365.5 524.1,365.8 523.5,365.8 522.9,365.9 522.3,366.4 521.7,366.7 521.1,366.4 520.5,366.6 519.9,366.1 519.3,366.8 518.7,366.6 518.1,367.3 517.5,367.1 516.9,368.3 516.3,367.9 515.7,367.2 515.1,366.8 514.5,366.5 513.9,366.7 513.3,366.5 512.7,366.6 512.1,365.6 511.5,366.7 510.9,366.2 510.3,366.3 509.7,366.4 509.1,365.2 508.5,366.3 507.9,366.2 507.3,366.3 506.7,365.6 506.1,366.2 505.5,365.9 504.9,365.1 504.3,365.2 503.7,365.3 503.1,364.8 502.5,366.2 501.9,365.6 501.3,365.7 500.7,366.3 500.1,366.7 499.5,366.3 498.9,366.6 498.3,366.3 497.7,367.3 497.1,367.1 496.5,366.8 495.9,366.7 495.3,367.3 494.7,366.8 494.1,366.9 493.5,366.9 492.9,367.0 492.3,367.2 491.7,367.4 491.1,366.9 490.5,366.9 489.9,367.1 489.3,367.9 488.7,368.9 488.1,369.7 487.5,370.5 486.9,371.1 486.3,371.1 485.7,370.2 485.1,369.7 484.5,369.5 483.9,368.7 483.3,368.8 482.7,368.7 482.1,368.7 481.5,368.2 480.9,368.4 480.3,368.0 479.7,368.3 479.1,368.6 478.5,367.8 477.9,368.8 477.3,368.3 476.7,368.2 476.1,368.3 475.5,367.6 474.9,367.9 474.3,368.2 473.7,367.7 473.1,367.9 472.5,368.0 471.9,368.0 471.3,367.5 470.7,367.6 470.1,366.8 469.5,367.7 468.9,367.6 468.3,367.8 467.7,367.6 467.1,367.6 466.5,367.6 465.9,367.5 465.3,367.5 464.7,367.6 464.1,369.3 463.5,368.0 462.9,367.9 462.3,368.2 461.7,368.0 461.1,368.6 460.5,368.5 459.9,369.2 459.3,369.3 458.7,368.0 458.1,368.8 457.5,368.9 456.9,369.1 456.3,368.8 455.7,369.5 455.1,369.3 454.5,368.5 453.9,369.2 453.3,368.7 452.7,368.8 452.1,369.3 451.5,368.3 450.9,368.3 450.3,367.5 449.7,367.5 449.1,367.3 448.5,367.6 447.9,367.4 447.3,367.4 446.7,367.0 446.1,366.4 445.5,367.1 444.9,366.1 444.3,366.7 443.7,366.5 443.1,365.8 442.5,366.3 441.9,365.4 441.3,365.1 440.7,365.5 440.1,366.0 439.5,365.5 438.9,365.8 438.3,366.4 437.7,365.4 437.1,364.9 436.5,365.4 435.9,365.6 435.3,365.5 434.7,365.6 434.1,365.3 433.5,365.8 432.9,365.3 432.3,365.6 431.7,365.5 431.1,365.2 430.5,365.8 429.9,365.7 429.3,365.6 428.7,365.2 428.1,365.6 427.5,365.9 426.9,365.9 426.3,366.0 425.7,365.0 425.1,365.9 424.5,365.3 423.9,365.7 423.3,366.0 422.7,366.2 422.1,365.8 421.5,366.2 420.9,365.7 420.3,365.9 419.7,366.2 419.1,365.6 418.5,365.5 417.9,366.5 417.3,366.5 416.7,366.5 416.1,365.1 415.5,367.2 414.9,366.0 414.3,366.5 413.7,365.8 413.1,366.1 412.5,365.8 411.9,365.5 411.3,365.6 410.7,366.8 410.1,365.6 409.5,365.3 408.9,365.2 408.3,365.0 407.7,364.5 407.1,365.5 406.5,364.4 405.9,364.9 405.3,365.0 404.7,364.3 404.1,364.4 403.5,364.8 402.9,365.8 402.3,364.8 401.7,363.2 401.1,364.3 400.5,364.3 399.9,364.3 399.3,364.4 398.7,365.0 398.1,363.6 397.5,365.6 396.9,363.5 396.3,363.9 395.7,363.7 395.1,364.3 394.5,365.0 393.9,364.4 393.3,365.2 392.7,364.8 392.1,365.4 391.5,364.5 390.9,364.9 390.3,364.6 389.7,364.6 389.1,365.0 388.5,365.1 387.9,367.4 387.3,365.2 386.7,365.0 386.1,365.0 385.5,365.2 384.9,365.2 384.3,364.7 383.7,364.6 383.1,365.1 382.5,364.8 381.9,364.8 381.3,364.8 380.7,364.3 380.1,364.3 379.5,365.9 378.9,364.8 378.3,364.3 377.7,364.4 377.1,365.5 376.5,364.7 375.9,365.0 375.3,364.5 374.7,365.2 374.1,364.3 373.5,364.8 372.9,364.1 372.3,364.7 371.7,365.9 371.1,364.6 370.5,366.1 369.9,365.4 369.3,364.6 368.7,364.6 368.1,364.1 367.5,364.9 366.9,364.9 366.3,365.3 365.7,364.5 365.1,365.7 364.5,364.7 363.9,365.3 363.3,364.5 362.7,366.2 362.1,364.0 361.5,365.1 360.9,365.3 360.3,364.4 359.7,365.7 359.1,365.1 358.5,365.1 357.9,365.3 357.3,364.9 356.7,365.0 356.1,365.5 355.5,364.8 354.9,364.3 354.3,364.3 353.7,365.4 353.1,364.6 352.5,364.1 351.9,364.8 351.3,364.0 350.7,364.1 350.1,365.5 349.5,364.7 348.9,365.1 348.3,364.8 347.7,365.1 347.1,364.4 346.5,364.6 345.9,364.4 345.3,364.9 344.7,365.1 344.1,364.4 343.5,364.4 342.9,364.9 342.3,364.9 341.7,364.8 341.1,365.3 340.5,365.3 339.9,365.3 339.3,364.2 338.7,366.1 338.1,365.2 337.5,365.9 336.9,365.3 336.3,365.8 335.7,366.0 335.1,365.7 334.5,365.7 333.9,365.8 333.3,365.2 332.7,366.3 332.1,365.5 331.5,365.7 330.9,366.3 330.3,366.2 329.7,365.9 329.1,365.6 328.5,366.0 327.9,365.9 327.3,365.7 326.7,366.1 326.1,366.3 325.5,366.1 324.9,365.5 324.3,365.6 323.7,365.4 323.1,366.0 322.5,366.3 321.9,365.1 321.3,365.8 320.7,365.5 320.1,365.9 319.5,365.8 318.9,364.6 318.3,366.1 317.7,368.3 317.1,365.9 316.5,365.2 315.9,365.7 315.3,365.3 314.7,365.5 314.1,365.8 313.5,365.9 312.9,365.7 312.3,366.0 311.7,365.6 311.1,365.0 310.5,365.2 309.9,365.0 309.3,364.2 308.7,364.0 308.1,364.1 307.5,364.2 306.9,364.0 306.3,364.4 305.7,363.4 305.1,364.1 304.5,364.5 303.9,364.7 303.3,364.3 302.7,365.4 302.1,364.1 301.5,364.9 300.9,365.2 300.3,365.4 299.7,364.5 299.1,365.2 298.5,366.6 297.9,365.2 297.3,364.9 296.7,365.1 296.1,366.2 295.5,364.6 294.9,364.7 294.3,365.1 293.7,364.4 293.1,365.0 292.5,364.3 291.9,365.2 291.3,364.3 290.7,365.2 290.1,364.2 289.5,364.9 288.9,365.6 288.3,364.5 287.7,364.9 287.1,364.6 286.5,365.1 285.9,365.5 285.3,364.5 284.7,364.0 284.1,364.9 283.5,364.7 282.9,365.1 282.3,365.1 281.7,366.0 281.1,365.9 280.5,365.4 279.9,365.2 279.3,366.0 278.7,366.1 278.1,366.6 277.5,366.6 276.9,366.1 276.3,366.9 275.7,367.6 275.1,367.5 274.5,367.5 273.9,367.9 273.3,368.4 272.7,368.4 272.1,368.2 271.5,368.7 270.9,368.4 270.3,368.7 269.7,368.8 269.1,368.4 268.5,367.7 267.9,368.1 267.3,368.1 266.7,368.0 266.1,368.4 265.5,368.1 264.9,367.3 264.3,367.7 263.7,367.4 263.1,367.2 262.5,367.6 261.9,368.0 261.3,366.9 260.7,367.4 260.1,367.7 259.5,367.5 258.9,367.2 258.3,367.0 257.7,367.3 257.1,367.1 256.5,367.9 255.9,367.5 255.3,368.5 254.7,368.8 254.1,368.0 253.5,368.3 252.9,368.3 252.3,369.9 251.7,368.4 251.1,368.7 250.5,369.3 249.9,369.2 249.3,369.1 248.7,368.7 248.1,369.1 247.5,369.3 246.9,369.1 246.3,369.2 245.7,369.9 245.1,369.7 244.5,369.8 243.9,370.4 243.3,370.0 242.7,369.6 242.1,371.0 241.5,370.1 240.9,370.5 240.3,370.9 239.7,370.2 239.1,370.7 238.5,370.3 237.9,371.0 237.3,371.1 236.7,371.0 236.1,371.5 235.5,371.4 234.9,372.1 234.3,372.0 233.7,372.8 233.1,372.6 232.5,372.3 231.9,372.9 231.3,371.4 230.7,370.1 230.1,372.8 229.5,371.0 228.9,371.2 228.3,370.9 227.7,371.2 227.1,371.2 226.5,371.4 225.9,370.5 225.3,370.9 224.7,371.3 224.1,371.6 223.5,371.5 222.9,372.4 222.3,372.8 221.7,373.8 221.1,374.0 220.5,373.3 219.9,373.8 219.3,372.9 218.7,373.0 218.1,371.9 217.5,371.8 216.9,371.6 216.3,370.6 215.7,371.1 215.1,370.5 214.5,370.2 213.9,369.2 213.3,368.7 212.7,368.0 212.1,368.0 211.5,367.7 210.9,367.8 210.3,366.6 209.7,366.5 209.1,366.5 208.5,367.7 207.9,367.5 207.3,367.7 206.7,368.3 206.1,368.4 205.5,368.5 204.9,368.6 204.3,369.3 203.7,369.4 203.1,369.7 202.5,369.6 201.9,369.1 201.3,369.4 200.7,368.9 200.1,368.5 199.5,368.0 198.9,368.0 198.3,367.7 197.7,367.4 197.1,367.4 196.5,367.8 195.9,367.6 195.3,367.5 194.7,367.4 194.1,366.9 193.5,367.9 192.9,367.2 192.3,367.6 191.7,366.8 191.1,366.9 190.5,366.4 189.9,366.5 189.3,366.8 188.7,366.4 188.1,367.4 187.5,365.6 186.9,365.7 186.3,366.3 185.7,365.7 185.1,364.5 184.5,364.3 183.9,364.3 183.3,364.9 182.7,364.4 182.1,364.0 181.5,363.9 180.9,363.8 180.3,363.8 179.7,364.5 179.1,364.1 178.5,363.2 177.9,363.8 177.3,364.1 176.7,362.0 176.1,364.4 175.5,364.1 174.9,363.2 174.3,364.1 173.7,363.6 173.1,364.3 172.5,363.6 171.9,364.2 171.3,363.5 170.7,364.8 170.1,364.3 169.5,363.7 168.9,364.0 168.3,363.9 167.7,365.7 167.1,364.3 166.5,363.7 165.9,363.6 165.3,363.7 164.7,363.0 164.1,363.2 163.5,363.3 162.9,362.6 162.3,362.7 161.7,363.4 161.1,362.9 160.5,362.3 159.9,363.3 159.3,362.1 158.7,363.8 158.1,363.3 157.5,364.2 156.9,362.4 156.3,364.2 155.7,363.7 155.1,364.1 154.5,364.3 153.9,364.1 153.3,364.4 152.7,365.0 152.1,364.8 151.5,364.7 150.9,365.0 150.3,364.7 149.7,364.5 149.1,364.8 148.5,364.8 147.9,364.7 147.3,363.9 146.7,364.3 146.1,364.5 145.5,364.1 144.9,364.1 144.3,363.4 143.7,363.6 143.1,362.8 142.5,364.1 141.9,363.8 141.3,362.6 140.7,363.4 140.1,362.8 139.5,363.5 138.9,363.1 138.3,363.2 137.7,362.3 137.1,362.7 136.5,362.8 135.9,365.5 135.3,362.9 134.7,362.2 134.1,362.6 133.5,362.6 132.9,362.5 132.3,363.1 131.7,362.6 131.1,361.8 130.5,363.0 129.9,363.1 129.3,363.0 128.7,362.9 128.1,363.0 127.5,362.7 126.9,363.7 126.3,363.5 125.7,363.7 125.1,363.7 124.5,363.2 123.9,363.0 123.3,363.5 122.7,363.0 122.1,362.9 121.5,363.6 120.9,362.8 120.3,362.8 119.7,363.1 119.1,363.3 118.5,363.8 117.9,363.1 117.3,363.6 116.7,363.1 116.1,364.2 115.5,364.6 114.9,364.4 114.3,364.2 113.7,364.7 113.1,363.7 112.5,365.0 111.9,364.9 111.3,364.7 110.7,364.8 110.1,365.4 109.5,365.1 108.9,365.4 108.3,366.0 107.7,365.4 107.1,365.3 106.5,366.0 105.9,365.7 105.3,365.3 104.7,365.1 104.1,366.4 103.5,365.4 102.9,365.8 102.3,366.1 101.7,366.2 101.1,366.6 100.5,367.0 99.9,366.4 99.3,367.0 98.7,366.9 98.1,367.0 97.5,367.1 96.9,367.7 96.3,367.0 95.7,367.4 95.1,367.4 94.5,368.2 93.9,368.2 93.3,368.0 92.7,367.3 92.1,368.2 91.5,368.9 90.9,368.8 90.3,369.0 89.7,369.7 89.1,369.9 88.5,369.6 87.9,369.3 87.3,368.9 86.7,368.3 86.1,367.9 85.5,368.2 84.9,368.3 84.3,367.4 83.7,367.0 83.1,366.5 82.5,365.6 81.9,365.8 81.3,364.7" fill="url(#g1)"/><polyline points="81.3,352.4 81.9,353.9 82.5,352.7 83.1,354.3 83.7,355.1 84.3,354.9 84.9,355.2 85.5,355.2 86.1,353.7 86.7,355.4 87.3,355.0 87.9,354.5 88.5,354.1 89.1,354.3 89.7,348.8 90.3,351.6 90.9,351.1 91.5,354.4 92.1,354.7 92.7,354.1 93.3,355.2 93.9,358.2 94.5,358.9 95.1,358.1 95.7,355.8 96.3,358.4 96.9,357.8 97.5,356.4 98.1,355.8 98.7,356.4 99.3,355.8 99.9,357.5 100.5,355.8 101.1,355.5 101.7,356.3 102.3,358.8 102.9,359.2 103.5,358.3 104.1,356.2 104.7,358.7 105.3,355.6 105.9,356.7 106.5,357.5 107.1,359.1 107.7,359.1 108.3,359.1 108.9,359.8 109.5,360.8 110.1,360.6 110.7,359.6 111.3,360.6 111.9,358.9 112.5,359.0 113.1,358.7 113.7,359.8 114.3,357.1 114.9,358.1 115.5,356.8 116.1,355.0 116.7,353.7 117.3,358.0 117.9,356.3 118.5,356.7 119.1,358.5 119.7,359.7 120.3,356.0 120.9,358.6 121.5,358.6 122.1,360.5 122.7,358.2 123.3,358.5 123.9,358.8 124.5,359.9 125.1,358.4 125.7,360.1 126.3,360.8 126.9,359.6 127.5,360.3 128.1,360.3 128.7,357.9 129.3,358.8 129.9,358.3 130.5,357.8 131.1,358.8 131.7,360.0 132.3,356.8 132.9,358.2 133.5,359.0 134.1,357.4 134.7,357.8 135.3,358.5 135.9,357.9 136.5,360.1 137.1,357.9 137.7,359.1 138.3,359.6 138.9,358.8 139.5,357.6 140.1,357.4 140.7,356.8 141.3,359.0 141.9,357.2 142.5,359.7 143.1,358.8 143.7,359.4 144.3,359.8 144.9,358.3 145.5,359.7 146.1,360.2 146.7,359.5 147.3,360.1 147.9,361.0 148.5,361.1 149.1,361.2 149.7,358.6 150.3,359.4 150.9,359.8 151.5,360.6 152.1,362.7 152.7,362.0 153.3,361.7 153.9,360.8 154.5,360.4 155.1,360.7 155.7,359.9 156.3,359.4 156.9,356.1 157.5,357.4 158.1,358.0 158.7,359.0 159.3,358.8 159.9,359.4 160.5,358.0 161.1,356.4 161.7,356.6 162.3,358.1 162.9,359.9 163.5,359.7 164.1,359.9 164.7,359.4 165.3,359.9 165.9,360.5 166.5,361.3 167.1,358.8 167.7,359.7 168.3,361.2 168.9,361.0 169.5,361.1 170.1,360.6 170.7,359.6 171.3,360.8 171.9,360.1 172.5,361.9 173.1,360.5 173.7,360.7 174.3,359.4 174.9,357.1 175.5,359.2 176.1,359.0 176.7,359.1 177.3,357.3 177.9,357.2 178.5,359.8 179.1,359.7 179.7,361.1 180.3,361.4 180.9,360.5 181.5,361.6 182.1,361.7 182.7,362.4 183.3,361.9 183.9,362.6 184.5,361.4 185.1,359.7 185.7,359.2 186.3,360.6 186.9,358.5 187.5,358.4 188.1,357.3 188.7,355.7 189.3,355.5 189.9,357.0 190.5,355.0 191.1,357.5 191.7,354.7 192.3,356.9 192.9,357.1 193.5,358.3 194.1,358.8 194.7,356.7 195.3,357.2 195.9,358.3 196.5,356.9 197.1,359.3 197.7,356.8 198.3,358.5 198.9,356.3 199.5,354.5 200.1,353.8 200.7,354.4 201.3,352.8 201.9,352.5 202.5,350.9 203.1,351.2 203.7,351.2 204.3,349.0 204.9,352.1 205.5,351.8 206.1,354.8 206.7,353.9 207.3,353.8 207.9,352.8 208.5,353.5 209.1,356.1 209.7,355.2 210.3,356.8 210.9,358.6 211.5,357.7 212.1,357.5 212.7,355.7 213.3,351.8 213.9,353.9 214.5,349.5 215.1,350.3 215.7,349.6 216.3,347.9 216.9,348.1 217.5,346.5 218.1,345.0 218.7,345.3 219.3,344.3 219.9,340.4 220.5,343.0 221.1,343.9 221.7,343.1 222.3,343.9 222.9,343.4 223.5,343.9 224.1,346.0 224.7,349.0 225.3,350.4 225.9,348.3 226.5,349.8 227.1,347.6 227.7,345.5 228.3,347.1 228.9,347.2 229.5,348.7 230.1,347.5 230.7,346.1 231.3,347.8 231.9,343.8 232.5,341.9 233.1,344.5 233.7,345.0 234.3,346.9 234.9,350.1 235.5,349.4 236.1,352.2 236.7,349.9 237.3,350.3 237.9,352.6 238.5,351.1 239.1,348.7 239.7,350.6 240.3,353.9 240.9,349.9 241.5,350.3 242.1,351.9 242.7,348.6 243.3,352.1 243.9,352.4 244.5,351.1 245.1,350.2 245.7,350.6 246.3,352.2 246.9,353.9 247.5,353.9 248.1,354.0 248.7,354.7 249.3,355.4 249.9,356.7 250.5,357.2 251.1,351.7 251.7,353.6 252.3,353.6 252.9,352.8 253.5,354.3 254.1,354.3 254.7,354.1 255.3,355.5 255.9,356.8 256.5,355.2 257.1,353.2 257.7,354.3 258.3,353.6 258.9,353.6 259.5,355.6 260.1,359.0 260.7,355.5 261.3,356.0 261.9,356.4 262.5,357.5 263.1,354.8 263.7,356.8 264.3,356.6 264.9,357.5 265.5,355.3 266.1,355.4 266.7,356.4 267.3,356.1 267.9,356.4 268.5,356.7 269.1,356.9 269.7,356.4 270.3,356.9 270.9,356.6 271.5,356.2 272.1,357.3 272.7,355.1 273.3,355.6 273.9,356.7 274.5,356.4 275.1,357.1 275.7,356.7 276.3,358.1 276.9,358.3 277.5,358.9 278.1,358.9 278.7,358.9 279.3,359.0 279.9,359.6 280.5,360.0 281.1,359.4 281.7,359.5 282.3,361.9 282.9,360.4 283.5,361.1 284.1,360.9 284.7,361.2 285.3,360.9 285.9,361.0 286.5,362.0 287.1,360.0 287.7,361.5 288.3,360.7 288.9,361.0 289.5,360.9 290.1,360.7 290.7,360.7 291.3,361.6 291.9,361.2 292.5,360.6 293.1,362.4 293.7,362.2 294.3,361.8 294.9,361.9 295.5,360.1 296.1,359.3 296.7,361.6 297.3,361.9 297.9,360.6 298.5,362.8 299.1,361.5 299.7,363.9 300.3,361.9 300.9,361.4 301.5,361.0 302.1,362.6 302.7,360.3 303.3,359.8 303.9,360.8 304.5,360.6 305.1,358.9 305.7,359.7 306.3,360.1 306.9,360.9 307.5,360.8 308.1,360.5 308.7,361.9 309.3,363.4 309.9,360.7 310.5,362.6 311.1,362.4 311.7,362.1 312.3,362.7 312.9,362.0 313.5,360.8 314.1,362.3 314.7,361.6 315.3,362.0 315.9,361.6 316.5,362.7 317.1,363.1 317.7,360.4 318.3,363.2 318.9,362.3 319.5,361.1 320.1,360.8 320.7,362.2 321.3,362.5 321.9,362.1 322.5,362.8 323.1,361.8 323.7,362.4 324.3,361.4 324.9,362.2 325.5,361.8 326.1,362.0 326.7,362.4 327.3,361.8 327.9,362.7 328.5,362.4 329.1,361.8 329.7,361.6 330.3,362.2 330.9,362.0 331.5,361.9 332.1,361.5 332.7,361.5 333.3,361.3 333.9,362.0 334.5,361.4 335.1,362.5 335.7,363.1 336.3,360.1 336.9,362.8 337.5,361.3 338.1,360.6 338.7,362.4 339.3,362.5 339.9,361.8 340.5,362.4 341.1,362.1 341.7,361.8 342.3,361.9 342.9,362.0 343.5,361.8 344.1,361.3 344.7,361.5 345.3,360.8 345.9,361.0 346.5,361.7 347.1,360.3 347.7,360.8 348.3,360.0 348.9,360.6 349.5,359.8 350.1,359.3 350.7,359.8 351.3,357.2 351.9,358.4 352.5,358.7 353.1,358.8 353.7,358.3 354.3,359.7 354.9,356.8 355.5,359.4 356.1,359.2 356.7,357.6 357.3,358.6 357.9,359.0 358.5,359.6 359.1,359.0 359.7,358.6 360.3,356.0 360.9,359.0 361.5,358.4 362.1,358.3 362.7,356.9 363.3,356.2 363.9,358.4 364.5,358.9 365.1,356.6 365.7,358.6 366.3,358.2 366.9,359.0 367.5,358.5 368.1,359.2 368.7,359.8 369.3,359.8 369.9,359.3 370.5,358.4 371.1,357.6 371.7,359.8 372.3,359.6 372.9,359.6 373.5,358.1 374.1,360.8 374.7,360.3 375.3,358.9 375.9,358.2 376.5,357.9 377.1,359.9 377.7,358.9 378.3,358.7 378.9,357.5 379.5,357.3 380.1,357.1 380.7,358.7 381.3,356.3 381.9,357.3 382.5,356.4 383.1,356.1 383.7,355.9 384.3,356.5 384.9,355.1 385.5,355.9 386.1,357.5 386.7,358.8 387.3,359.7 387.9,357.5 388.5,359.7 389.1,358.5 389.7,357.8 390.3,357.5 390.9,356.8 391.5,360.0 392.1,356.2 392.7,358.7 393.3,358.7 393.9,359.6 394.5,358.9 395.1,358.4 395.7,360.6 396.3,359.7 396.9,360.9 397.5,359.6 398.1,359.3 398.7,358.0 399.3,358.5 399.9,358.3 400.5,357.1 401.1,355.9 401.7,357.9 402.3,359.7 402.9,359.5 403.5,360.3 404.1,358.9 404.7,358.3 405.3,357.9 405.9,355.5 406.5,357.8 407.1,356.4 407.7,356.2 408.3,356.4 408.9,356.0 409.5,358.3 410.1,356.9 410.7,359.0 411.3,359.0 411.9,360.0 412.5,359.2 413.1,359.3 413.7,356.7 414.3,359.6 414.9,358.9 415.5,358.1 416.1,358.4 416.7,360.5 417.3,360.9 417.9,360.1 418.5,360.0 419.1,362.5 419.7,358.8 420.3,358.8 420.9,360.2 421.5,360.3 422.1,359.0 422.7,361.0 423.3,360.0 423.9,361.0 424.5,360.0 425.1,360.0 425.7,360.3 426.3,361.7 426.9,360.8 427.5,360.2 428.1,360.8 428.7,360.2 429.3,360.9 429.9,359.9 430.5,360.1 431.1,360.5 431.7,359.7 432.3,361.7 432.9,359.8 433.5,359.4 434.1,361.5 434.7,361.1 435.3,360.2 435.9,360.3 436.5,361.1 437.1,359.9 437.7,361.5 438.3,360.4 438.9,360.9 439.5,361.6 440.1,360.8 440.7,359.8 441.3,361.5 441.9,361.9 442.5,361.1 443.1,361.4 443.7,361.3 444.3,361.3 444.9,360.8 445.5,361.0 446.1,360.6 446.7,360.6 447.3,359.7 447.9,359.9 448.5,361.1 449.1,359.6 449.7,360.3 450.3,360.1 450.9,359.7 451.5,359.1 452.1,360.4 452.7,358.1 453.3,360.0 453.9,359.6 454.5,360.8 455.1,360.8 455.7,360.4 456.3,359.0 456.9,358.7 457.5,359.3 458.1,359.0 458.7,357.3 459.3,357.7 459.9,357.8 460.5,359.5 461.1,359.6 461.7,358.9 462.3,359.1 462.9,359.3 463.5,359.6 464.1,360.8 464.7,361.6 465.3,358.7 465.9,361.4 466.5,362.3 467.1,361.6 467.7,360.9 468.3,361.5 468.9,361.9 469.5,360.7 470.1,361.5 470.7,362.1 471.3,362.3 471.9,360.7 472.5,360.8 473.1,359.6 473.7,358.7 474.3,359.1 474.9,359.4 475.5,358.5 476.1,358.9 476.7,360.1 477.3,360.6 477.9,359.7 478.5,360.8 479.1,362.2 479.7,360.8 480.3,358.8 480.9,359.5 481.5,359.6 482.1,359.9 482.7,358.7 483.3,359.2 483.9,358.7 484.5,357.7 485.1,358.6 485.7,356.8 486.3,357.3 486.9,360.2 487.5,359.9 488.1,360.9 488.7,358.0 489.3,359.3 489.9,359.0 490.5,359.5 491.1,360.5 491.7,360.5 492.3,359.1 492.9,359.3 493.5,359.9 494.1,361.4 494.7,360.3 495.3,361.0 495.9,361.9 496.5,361.7 497.1,362.1 497.7,362.1 498.3,362.4 498.9,361.8 499.5,362.6 500.1,363.8 500.7,362.7 501.3,362.2 501.9,362.0 502.5,363.2 503.1,363.1 503.7,364.0 504.3,363.4 504.9,362.7 505.5,364.8 506.1,363.7 506.7,363.3 507.3,362.7 507.9,364.1 508.5,362.0 509.1,362.7 509.7,362.0 510.3,362.9 510.9,362.7 511.5,361.7 512.1,360.2 512.7,361.6 513.3,361.2 513.9,361.7 514.5,362.7 515.1,359.8 515.7,358.3 516.3,360.4 516.9,359.3 517.5,359.2 518.1,359.7 518.7,360.0 519.3,360.6 519.9,360.6 520.5,361.2 521.1,363.6 521.7,361.3 522.3,361.1 522.9,361.1 523.5,361.3 524.1,361.1 524.7,362.0 525.3,359.9 525.9,361.7 526.5,360.5 527.1,361.2 527.7,362.4 528.3,361.6 528.9,361.5 529.5,359.7 530.1,363.2 530.7,363.0 531.3,361.6 531.9,361.4 532.5,363.0 533.1,360.3 533.7,360.5 534.3,359.9 534.9,358.3 535.5,360.1 536.1,356.9 536.7,359.2 537.3,358.7 537.9,360.3 538.5,358.6 539.1,358.8 539.7,357.5 540.3,359.0 540.9,357.5 541.5,359.1 542.1,356.9 542.7,359.1 543.3,357.6 543.9,358.2 544.5,358.2 545.1,357.4 545.7,360.5 546.3,359.0 546.9,357.9 547.5,360.2 548.1,358.4 548.7,358.9 549.3,360.6 549.9,360.2 550.5,363.4 551.1,359.1 551.7,360.1 552.3,360.5 552.9,360.3 553.5,359.7 554.1,360.1 554.7,360.8 555.3,361.6 555.9,360.8 556.5,360.4 557.1,360.9 557.7,360.8 558.3,359.8 558.9,360.5 559.5,359.8 560.1,360.8 560.7,359.5 561.3,360.2 561.9,360.4 562.5,359.2 563.1,360.5 563.7,359.9 564.3,359.8 564.9,360.5 565.5,360.2 566.1,358.9 566.7,355.9 567.3,359.9 567.9,358.7 568.5,359.6 569.1,358.9 569.7,360.6 570.3,357.6 570.9,360.3 571.5,360.4 572.1,358.7 572.7,361.0 573.3,360.1 573.9,360.4 574.5,361.0 575.1,362.0 575.7,361.0 576.3,360.7 576.9,363.3 577.5,359.8 578.1,362.4 578.7,362.3 579.3,357.7 579.9,359.5 580.5,360.8 581.1,360.5 581.7,361.4 582.3,361.3 582.9,360.3 583.5,360.7 584.1,360.4 584.7,360.2 585.3,361.8 585.9,360.4 586.5,361.0 587.1,358.6 587.7,361.1 588.3,360.1 588.9,357.8 589.5,358.2 590.1,357.1 590.7,359.2 591.3,359.1 591.9,359.8 592.5,359.3 593.1,359.9 593.7,360.2 594.3,360.9 594.9,363.9 595.5,362.0 596.1,360.5 596.7,361.4 597.3,360.3 597.9,363.4 598.5,362.4 599.1,362.9 599.7,361.9 600.3,361.7 600.9,361.6 601.5,361.6 602.1,361.7 602.7,362.0 603.3,361.0 603.9,360.9 604.5,360.8 605.1,360.3 605.7,359.9 606.3,359.8 606.9,359.2 607.5,359.3 608.1,360.2 608.7,360.5 609.3,360.3 609.9,360.2 610.5,361.3 611.1,360.8 611.7,361.1 612.3,360.4 612.9,360.6 613.5,361.0 614.1,361.4 614.7,360.4 615.3,361.1 615.9,360.9 616.5,359.5 617.1,360.9 617.7,361.1 618.3,360.1 618.9,358.4 619.5,359.9 620.1,359.4 620.7,359.6 621.3,359.6 621.9,359.3 622.5,360.3 623.1,359.3 623.7,359.0 624.3,358.8 624.9,359.5 625.5,359.1 626.1,358.7 626.7,358.9 627.3,356.9 627.9,357.1 628.5,357.8 629.1,357.7 629.7,358.4 630.3,360.4 630.9,359.4 631.5,362.2 632.1,361.1 632.7,361.5 633.3,361.2 633.9,359.0 634.5,361.1 635.1,360.4 635.7,359.9 636.3,360.5 636.9,359.4 637.5,360.0 638.1,360.8 638.7,360.9 639.3,362.0 639.9,361.2 640.5,362.0 641.1,361.8 641.7,361.6 642.3,361.3 642.9,361.4 643.5,361.3 644.1,362.1 644.7,361.3 645.3,362.0 645.9,361.9 646.5,361.4 647.1,362.3 647.7,362.0 648.3,362.2" fill="none" stroke="#000" stroke-width="1.15" stroke-linejoin="miter" stroke-miterlimit="2"/><polyline points="81.3,364.7 81.9,365.8 82.5,365.6 83.1,366.5 83.7,367.0 84.3,367.4 84.9,368.3 85.5,368.2 86.1,367.9 86.7,368.3 87.3,368.9 87.9,369.3 88.5,369.6 89.1,369.9 89.7,369.7 90.3,369.0 90.9,368.8 91.5,368.9 92.1,368.2 92.7,367.3 93.3,368.0 93.9,368.2 94.5,368.2 95.1,367.4 95.7,367.4 96.3,367.0 96.9,367.7 97.5,367.1 98.1,367.0 98.7,366.9 99.3,367.0 99.9,366.4 100.5,367.0 101.1,366.6 101.7,366.2 102.3,366.1 102.9,365.8 103.5,365.4 104.1,366.4 104.7,365.1 105.3,365.3 105.9,365.7 106.5,366.0 107.1,365.3 107.7,365.4 108.3,366.0 108.9,365.4 109.5,365.1 110.1,365.4 110.7,364.8 111.3,364.7 111.9,364.9 112.5,365.0 113.1,363.7 113.7,364.7 114.3,364.2 114.9,364.4 115.5,364.6 116.1,364.2 116.7,363.1 117.3,363.6 117.9,363.1 118.5,363.8 119.1,363.3 119.7,363.1 120.3,362.8 120.9,362.8 121.5,363.6 122.1,362.9 122.7,363.0 123.3,363.5 123.9,363.0 124.5,363.2 125.1,363.7 125.7,363.7 126.3,363.5 126.9,363.7 127.5,362.7 128.1,363.0 128.7,362.9 129.3,363.0 129.9,363.1 130.5,363.0 131.1,361.8 131.7,362.6 132.3,363.1 132.9,362.5 133.5,362.6 134.1,362.6 134.7,362.2 135.3,362.9 135.9,365.5 136.5,362.8 137.1,362.7 137.7,362.3 138.3,363.2 138.9,363.1 139.5,363.5 140.1,362.8 140.7,363.4 141.3,362.6 141.9,363.8 142.5,364.1 143.1,362.8 143.7,363.6 144.3,363.4 144.9,364.1 145.5,364.1 146.1,364.5 146.7,364.3 147.3,363.9 147.9,364.7 148.5,364.8 149.1,364.8 149.7,364.5 150.3,364.7 150.9,365.0 151.5,364.7 152.1,364.8 152.7,365.0 153.3,364.4 153.9,364.1 154.5,364.3 155.1,364.1 155.7,363.7 156.3,364.2 156.9,362.4 157.5,364.2 158.1,363.3 158.7,363.8 159.3,362.1 159.9,363.3 160.5,362.3 161.1,362.9 161.7,363.4 162.3,362.7 162.9,362.6 163.5,363.3 164.1,363.2 164.7,363.0 165.3,363.7 165.9,363.6 166.5,363.7 167.1,364.3 167.7,365.7 168.3,363.9 168.9,364.0 169.5,363.7 170.1,364.3 170.7,364.8 171.3,363.5 171.9,364.2 172.5,363.6 173.1,364.3 173.7,363.6 174.3,364.1 174.9,363.2 175.5,364.1 176.1,364.4 176.7,362.0 177.3,364.1 177.9,363.8 178.5,363.2 179.1,364.1 179.7,364.5 180.3,363.8 180.9,363.8 181.5,363.9 182.1,364.0 182.7,364.4 183.3,364.9 183.9,364.3 184.5,364.3 185.1,364.5 185.7,365.7 186.3,366.3 186.9,365.7 187.5,365.6 188.1,367.4 188.7,366.4 189.3,366.8 189.9,366.5 190.5,366.4 191.1,366.9 191.7,366.8 192.3,367.6 192.9,367.2 193.5,367.9 194.1,366.9 194.7,367.4 195.3,367.5 195.9,367.6 196.5,367.8 197.1,367.4 197.7,367.4 198.3,367.7 198.9,368.0 199.5,368.0 200.1,368.5 200.7,368.9 201.3,369.4 201.9,369.1 202.5,369.6 203.1,369.7 203.7,369.4 204.3,369.3 204.9,368.6 205.5,368.5 206.1,368.4 206.7,368.3 207.3,367.7 207.9,367.5 208.5,367.7 209.1,366.5 209.7,366.5 210.3,366.6 210.9,367.8 211.5,367.7 212.1,368.0 212.7,368.0 213.3,368.7 213.9,369.2 214.5,370.2 215.1,370.5 215.7,371.1 216.3,370.6 216.9,371.6 217.5,371.8 218.1,371.9 218.7,373.0 219.3,372.9 219.9,373.8 220.5,373.3 221.1,374.0 221.7,373.8 222.3,372.8 222.9,372.4 223.5,371.5 224.1,371.6 224.7,371.3 225.3,370.9 225.9,370.5 226.5,371.4 227.1,371.2 227.7,371.2 228.3,370.9 228.9,371.2 229.5,371.0 230.1,372.8 230.7,370.1 231.3,371.4 231.9,372.9 232.5,372.3 233.1,372.6 233.7,372.8 234.3,372.0 234.9,372.1 235.5,371.4 236.1,371.5 236.7,371.0 237.3,371.1 237.9,371.0 238.5,370.3 239.1,370.7 239.7,370.2 240.3,370.9 240.9,370.5 241.5,370.1 242.1,371.0 242.7,369.6 243.3,370.0 243.9,370.4 244.5,369.8 245.1,369.7 245.7,369.9 246.3,369.2 246.9,369.1 247.5,369.3 248.1,369.1 248.7,368.7 249.3,369.1 249.9,369.2 250.5,369.3 251.1,368.7 251.7,368.4 252.3,369.9 252.9,368.3 253.5,368.3 254.1,368.0 254.7,368.8 255.3,368.5 255.9,367.5 256.5,367.9 257.1,367.1 257.7,367.3 258.3,367.0 258.9,367.2 259.5,367.5 260.1,367.7 260.7,367.4 261.3,366.9 261.9,368.0 262.5,367.6 263.1,367.2 263.7,367.4 264.3,367.7 264.9,367.3 265.5,368.1 266.1,368.4 266.7,368.0 267.3,368.1 267.9,368.1 268.5,367.7 269.1,368.4 269.7,368.8 270.3,368.7 270.9,368.4 271.5,368.7 272.1,368.2 272.7,368.4 273.3,368.4 273.9,367.9 274.5,367.5 275.1,367.5 275.7,367.6 276.3,366.9 276.9,366.1 277.5,366.6 278.1,366.6 278.7,366.1 279.3,366.0 279.9,365.2 280.5,365.4 281.1,365.9 281.7,366.0 282.3,365.1 282.9,365.1 283.5,364.7 284.1,364.9 284.7,364.0 285.3,364.5 285.9,365.5 286.5,365.1 287.1,364.6 287.7,364.9 288.3,364.5 288.9,365.6 289.5,364.9 290.1,364.2 290.7,365.2 291.3,364.3 291.9,365.2 292.5,364.3 293.1,365.0 293.7,364.4 294.3,365.1 294.9,364.7 295.5,364.6 296.1,366.2 296.7,365.1 297.3,364.9 297.9,365.2 298.5,366.6 299.1,365.2 299.7,364.5 300.3,365.4 300.9,365.2 301.5,364.9 302.1,364.1 302.7,365.4 303.3,364.3 303.9,364.7 304.5,364.5 305.1,364.1 305.7,363.4 306.3,364.4 306.9,364.0 307.5,364.2 308.1,364.1 308.7,364.0 309.3,364.2 309.9,365.0 310.5,365.2 311.1,365.0 311.7,365.6 312.3,366.0 312.9,365.7 313.5,365.9 314.1,365.8 314.7,365.5 315.3,365.3 315.9,365.7 316.5,365.2 317.1,365.9 317.7,368.3 318.3,366.1 318.9,364.6 319.5,365.8 320.1,365.9 320.7,365.5 321.3,365.8 321.9,365.1 322.5,366.3 323.1,366.0 323.7,365.4 324.3,365.6 324.9,365.5 325.5,366.1 326.1,366.3 326.7,366.1 327.3,365.7 327.9,365.9 328.5,366.0 329.1,365.6 329.7,365.9 330.3,366.2 330.9,366.3 331.5,365.7 332.1,365.5 332.7,366.3 333.3,365.2 333.9,365.8 334.5,365.7 335.1,365.7 335.7,366.0 336.3,365.8 336.9,365.3 337.5,365.9 338.1,365.2 338.7,366.1 339.3,364.2 339.9,365.3 340.5,365.3 341.1,365.3 341.7,364.8 342.3,364.9 342.9,364.9 343.5,364.4 344.1,364.4 344.7,365.1 345.3,364.9 345.9,364.4 346.5,364.6 347.1,364.4 347.7,365.1 348.3,364.8 348.9,365.1 349.5,364.7 350.1,365.5 350.7,364.1 351.3,364.0 351.9,364.8 352.5,364.1 353.1,364.6 353.7,365.4 354.3,364.3 354.9,364.3 355.5,364.8 356.1,365.5 356.7,365.0 357.3,364.9 357.9,365.3 358.5,365.1 359.1,365.1 359.7,365.7 360.3,364.4 360.9,365.3 361.5,365.1 362.1,364.0 362.7,366.2 363.3,364.5 363.9,365.3 364.5,364.7 365.1,365.7 365.7,364.5 366.3,365.3 366.9,364.9 367.5,364.9 368.1,364.1 368.7,364.6 369.3,364.6 369.9,365.4 370.5,366.1 371.1,364.6 371.7,365.9 372.3,364.7 372.9,364.1 373.5,364.8 374.1,364.3 374.7,365.2 375.3,364.5 375.9,365.0 376.5,364.7 377.1,365.5 377.7,364.4 378.3,364.3 378.9,364.8 379.5,365.9 380.1,364.3 380.7,364.3 381.3,364.8 381.9,364.8 382.5,364.8 383.1,365.1 383.7,364.6 384.3,364.7 384.9,365.2 385.5,365.2 386.1,365.0 386.7,365.0 387.3,365.2 387.9,367.4 388.5,365.1 389.1,365.0 389.7,364.6 390.3,364.6 390.9,364.9 391.5,364.5 392.1,365.4 392.7,364.8 393.3,365.2 393.9,364.4 394.5,365.0 395.1,364.3 395.7,363.7 396.3,363.9 396.9,363.5 397.5,365.6 398.1,363.6 398.7,365.0 399.3,364.4 399.9,364.3 400.5,364.3 401.1,364.3 401.7,363.2 402.3,364.8 402.9,365.8 403.5,364.8 404.1,364.4 404.7,364.3 405.3,365.0 405.9,364.9 406.5,364.4 407.1,365.5 407.7,364.5 408.3,365.0 408.9,365.2 409.5,365.3 410.1,365.6 410.7,366.8 411.3,365.6 411.9,365.5 412.5,365.8 413.1,366.1 413.7,365.8 414.3,366.5 414.9,366.0 415.5,367.2 416.1,365.1 416.7,366.5 417.3,366.5 417.9,366.5 418.5,365.5 419.1,365.6 419.7,366.2 420.3,365.9 420.9,365.7 421.5,366.2 422.1,365.8 422.7,366.2 423.3,366.0 423.9,365.7 424.5,365.3 425.1,365.9 425.7,365.0 426.3,366.0 426.9,365.9 427.5,365.9 428.1,365.6 428.7,365.2 429.3,365.6 429.9,365.7 430.5,365.8 431.1,365.2 431.7,365.5 432.3,365.6 432.9,365.3 433.5,365.8 434.1,365.3 434.7,365.6 435.3,365.5 435.9,365.6 436.5,365.4 437.1,364.9 437.7,365.4 438.3,366.4 438.9,365.8 439.5,365.5 440.1,366.0 440.7,365.5 441.3,365.1 441.9,365.4 442.5,366.3 443.1,365.8 443.7,366.5 444.3,366.7 444.9,366.1 445.5,367.1 446.1,366.4 446.7,367.0 447.3,367.4 447.9,367.4 448.5,367.6 449.1,367.3 449.7,367.5 450.3,367.5 450.9,368.3 451.5,368.3 452.1,369.3 452.7,368.8 453.3,368.7 453.9,369.2 454.5,368.5 455.1,369.3 455.7,369.5 456.3,368.8 456.9,369.1 457.5,368.9 458.1,368.8 458.7,368.0 459.3,369.3 459.9,369.2 460.5,368.5 461.1,368.6 461.7,368.0 462.3,368.2 462.9,367.9 463.5,368.0 464.1,369.3 464.7,367.6 465.3,367.5 465.9,367.5 466.5,367.6 467.1,367.6 467.7,367.6 468.3,367.8 468.9,367.6 469.5,367.7 470.1,366.8 470.7,367.6 471.3,367.5 471.9,368.0 472.5,368.0 473.1,367.9 473.7,367.7 474.3,368.2 474.9,367.9 475.5,367.6 476.1,368.3 476.7,368.2 477.3,368.3 477.9,368.8 478.5,367.8 479.1,368.6 479.7,368.3 480.3,368.0 480.9,368.4 481.5,368.2 482.1,368.7 482.7,368.7 483.3,368.8 483.9,368.7 484.5,369.5 485.1,369.7 485.7,370.2 486.3,371.1 486.9,371.1 487.5,370.5 488.1,369.7 488.7,368.9 489.3,367.9 489.9,367.1 490.5,366.9 491.1,366.9 491.7,367.4 492.3,367.2 492.9,367.0 493.5,366.9 494.1,366.9 494.7,366.8 495.3,367.3 495.9,366.7 496.5,366.8 497.1,367.1 497.7,367.3 498.3,366.3 498.9,366.6 499.5,366.3 500.1,366.7 500.7,366.3 501.3,365.7 501.9,365.6 502.5,366.2 503.1,364.8 503.7,365.3 504.3,365.2 504.9,365.1 505.5,365.9 506.1,366.2 506.7,365.6 507.3,366.3 507.9,366.2 508.5,366.3 509.1,365.2 509.7,366.4 510.3,366.3 510.9,366.2 511.5,366.7 512.1,365.6 512.7,366.6 513.3,366.5 513.9,366.7 514.5,366.5 515.1,366.8 515.7,367.2 516.3,367.9 516.9,368.3 517.5,367.1 518.1,367.3 518.7,366.6 519.3,366.8 519.9,366.1 520.5,366.6 521.1,366.4 521.7,366.7 522.3,366.4 522.9,365.9 523.5,365.8 524.1,365.8 524.7,365.5 525.3,365.9 525.9,365.3 526.5,366.3 527.1,364.9 527.7,365.2 528.3,365.1 528.9,365.0 529.5,364.7 530.1,365.8 530.7,365.2 531.3,364.6 531.9,365.9 532.5,365.1 533.1,365.4 533.7,365.4 534.3,364.9 534.9,365.9 535.5,366.1 536.1,366.4 536.7,366.3 537.3,366.5 537.9,366.4 538.5,366.8 539.1,366.6 539.7,367.3 540.3,366.2 540.9,366.6 541.5,366.3 542.1,366.6 542.7,365.4 543.3,366.8 543.9,366.6 544.5,366.7 545.1,366.2 545.7,367.0 546.3,365.8 546.9,365.9 547.5,365.7 548.1,365.8 548.7,365.8 549.3,366.0 549.9,365.5 550.5,365.6 551.1,365.7 551.7,366.0 552.3,365.6 552.9,365.2 553.5,365.4 554.1,365.3 554.7,364.9 555.3,365.5 555.9,365.4 556.5,365.3 557.1,364.8 557.7,365.3 558.3,364.7 558.9,364.3 559.5,365.0 560.1,364.4 560.7,365.6 561.3,364.3 561.9,364.8 562.5,364.5 563.1,364.4 563.7,364.8 564.3,364.6 564.9,363.9 565.5,365.0 566.1,365.4 566.7,364.6 567.3,365.1 567.9,365.0 568.5,365.4 569.1,365.1 569.7,365.0 570.3,365.2 570.9,365.6 571.5,366.2 572.1,365.6 572.7,365.5 573.3,365.8 573.9,365.8 574.5,365.6 575.1,365.5 575.7,365.9 576.3,365.5 576.9,366.5 577.5,366.4 578.1,365.6 578.7,366.1 579.3,366.4 579.9,366.6 580.5,365.7 581.1,366.9 581.7,366.5 582.3,366.3 582.9,366.5 583.5,366.3 584.1,367.0 584.7,368.0 585.3,367.0 585.9,366.5 586.5,366.4 587.1,367.4 587.7,366.8 588.3,367.5 588.9,367.5 589.5,367.2 590.1,367.3 590.7,367.3 591.3,367.4 591.9,367.6 592.5,367.8 593.1,367.5 593.7,367.9 594.3,367.4 594.9,367.9 595.5,366.7 596.1,366.8 596.7,366.3 597.3,366.0 597.9,365.3 598.5,366.1 599.1,367.9 599.7,368.4 600.3,368.0 600.9,368.4 601.5,368.0 602.1,368.1 602.7,368.6 603.3,368.7 603.9,368.1 604.5,368.5 605.1,368.9 605.7,368.7 606.3,368.1 606.9,368.1 607.5,368.9 608.1,368.0 608.7,368.0 609.3,366.9 609.9,368.7 610.5,367.9 611.1,367.7 611.7,367.8 612.3,368.1 612.9,368.1 613.5,367.8 614.1,367.7 614.7,367.9 615.3,367.9 615.9,367.9 616.5,367.6 617.1,367.5 617.7,367.5 618.3,366.9 618.9,367.0 619.5,367.3 620.1,367.4 620.7,369.0 621.3,367.4 621.9,367.8 622.5,367.4 623.1,367.4 623.7,367.6 624.3,367.6 624.9,368.4 625.5,367.8 626.1,368.1 626.7,369.0 627.3,368.9 627.9,369.0 628.5,369.6 629.1,369.9 629.7,370.3 630.3,369.4 630.9,370.0 631.5,369.9 632.1,368.6 632.7,368.7 633.3,369.2 633.9,368.4 634.5,367.8 635.1,368.3 635.7,368.4 636.3,367.7 636.9,368.1 637.5,368.1 638.1,368.2 638.7,368.5 639.3,369.7 639.9,368.4 640.5,368.3 641.1,369.3 641.7,368.2 642.3,368.4 642.9,368.7 643.5,368.6 644.1,368.1 644.7,368.1 645.3,368.2 645.9,368.6 646.5,367.6 647.1,367.8 647.7,367.6 648.3,367.4" fill="none" stroke="#000" stroke-width="1.15" stroke-linejoin="miter" stroke-miterlimit="2"/>
<rect x="46.1" y="395.65" width="3.9" height="1.7" fill="#000"/>







</svg>
<div id="tx"><div class="t" style="left:164.00px;top:7.78px;font-size:42.00px;letter-spacing:0.14px;transform:scale(1,1.0300);">2025/10/20</div>
<div class="t" style="left:470.60px;top:7.78px;font-size:42.00px;letter-spacing:0.40px;transform:scale(1,1.0300);">AE(11) (Real-Time)</div>
<div class="t" style="left:1293.00px;top:24.28px;font-size:22.40px;transform:scale(1,1.0400) translateX(-100%);">WDC for Geomagnetism, Kyoto</div>
<div class="t stroke" style="left:150.20px;top:41.92px;font-size:23.60px;letter-spacing:1.04px;transform:scale(1,1.0500) translateX(-100%);">100<span style="margin-left:1.4px">0</span></div>
<div class="t stroke" style="left:150.20px;top:97.92px;font-size:23.60px;letter-spacing:1.50px;transform:scale(1,1.0500) translateX(-100%);">500</div>
<div class="t stroke" style="left:150.20px;top:155.92px;font-size:23.60px;letter-spacing:1.50px;transform:scale(1,1.0500) translateX(-100%);">0</div>
<div class="t stroke" style="left:150.20px;top:211.92px;font-size:23.60px;letter-spacing:1.50px;transform:scale(1,1.0500) translateX(-100%);">500</div>
<div class="t stroke" style="left:150.20px;top:267.92px;font-size:23.60px;letter-spacing:1.04px;transform:scale(1,1.0500) translateX(-100%);">100<span style="margin-left:1.4px">0</span></div>
<div class="t stroke" style="left:150.20px;top:325.92px;font-size:23.60px;letter-spacing:1.04px;transform:scale(1,1.0500) translateX(-100%);">150<span style="margin-left:1.4px">0</span></div>
<div class="t stroke" style="left:150.20px;top:381.92px;font-size:23.60px;letter-spacing:1.04px;transform:scale(1,1.0500) translateX(-100%);">200<span style="margin-left:1.4px">0</span></div>
<div class="t stroke" style="left:152.40px;top:66.03px;font-size:22.00px;letter-spacing:1.20px;transform:scale(1,1.0400) translateX(-100%);">(nT)</div>
<div class="t" style="left:22.00px;top:102.31px;font-size:42.00px;transform:scale(1,1.0600);">AU</div>
<div class="t" style="left:22.00px;top:203.51px;font-size:42.00px;transform:scale(1,1.0600);">AL</div>
<div class="t stroke" style="left:161.60px;top:394.82px;font-size:23.60px;transform:scale(1,1.1000) translateX(-50%);">00</div>
<div class="t stroke" style="left:445.60px;top:394.82px;font-size:23.60px;transform:scale(1,1.1000) translateX(-50%);">06</div>
<div class="t stroke" style="left:729.60px;top:394.82px;font-size:23.60px;transform:scale(1,1.1000) translateX(-50%);">12</div>
<div class="t stroke" style="left:1011.60px;top:394.82px;font-size:23.60px;transform:scale(1,1.1000) translateX(-50%);">18</div>
<div class="t stroke" style="left:1295.60px;top:394.82px;font-size:23.60px;transform:scale(1,1.1000) translateX(-50%);">24</div>
<div class="t" style="left:731.00px;top:419.59px;font-size:28.00px;letter-spacing:1.20px;transform:scale(1,1.0300) translateX(-50%);">U T</div>
<div class="t stroke" style="left:1340.00px;top:110.08px;font-size:23.60px;letter-spacing:0.80px;color:#ff0080;transform:scale(1,1.0500) translateX(-100%);">12</div>
<div class="t stroke" style="left:1340.00px;top:134.22px;font-size:23.60px;letter-spacing:0.80px;color:#ff2000;transform:scale(1,1.0500) translateX(-100%);">11</div>
<div class="t stroke" style="left:1340.00px;top:158.36px;font-size:23.60px;letter-spacing:0.80px;color:#ff9900;transform:scale(1,1.0500) translateX(-100%);">10</div>
<div class="t stroke" style="left:1340.00px;top:182.50px;font-size:23.60px;letter-spacing:0.80px;color:#ffe600;transform:scale(1,1.0500) translateX(-100%);">9</div>
<div class="t stroke" style="left:1340.00px;top:206.64px;font-size:23.60px;letter-spacing:0.80px;color:#99ff00;transform:scale(1,1.0500) translateX(-100%);">8</div>
<div class="t stroke" style="left:1340.00px;top:230.78px;font-size:23.60px;letter-spacing:0.80px;color:#00e6d2;transform:scale(1,1.0500) translateX(-100%);">7</div>
<div class="t stroke" style="left:1340.00px;top:254.92px;font-size:23.60px;letter-spacing:0.80px;color:#1a6eff;transform:scale(1,1.0500) translateX(-100%);">6</div>
<div class="t stroke" style="left:1340.00px;top:279.06px;font-size:23.60px;letter-spacing:0.80px;color:#3300ee;transform:scale(1,1.0500) translateX(-100%);">5</div>
<div class="t stroke" style="left:1340.00px;top:303.20px;font-size:23.60px;letter-spacing:0.80px;color:#ff00ff;transform:scale(1,1.0500) translateX(-100%);">4</div>
<div class="t stroke" style="left:1340.00px;top:327.34px;font-size:23.60px;letter-spacing:0.80px;color:#000000;transform:scale(1,1.0500) translateX(-100%);">3</div>
<div class="t stroke" style="left:1340.00px;top:351.48px;font-size:23.60px;letter-spacing:0.80px;color:#666666;transform:scale(1,1.0500) translateX(-100%);">2</div>
<div class="t stroke" style="left:1340.00px;top:375.62px;font-size:23.60px;letter-spacing:0.80px;color:#cccccc;transform:scale(1,1.0500) translateX(-100%);">1</div>
<div class="t stroke" style="left:150.20px;top:496.32px;font-size:23.60px;letter-spacing:1.04px;transform:scale(1,1.0500) translateX(-100%);">200<span style="margin-left:1.4px">0</span></div>
<div class="t stroke" style="left:150.20px;top:552.32px;font-size:23.60px;letter-spacing:1.04px;transform:scale(1,1.0500) translateX(-100%);">150<span style="margin-left:1.4px">0</span></div>
<div class="t stroke" style="left:150.20px;top:608.32px;font-size:23.60px;letter-spacing:1.04px;transform:scale(1,1.0500) translateX(-100%);">100<span style="margin-left:1.4px">0</span></div>
<div class="t stroke" style="left:150.20px;top:666.32px;font-size:23.60px;letter-spacing:1.50px;transform:scale(1,1.0500) translateX(-100%);">500</div>
<div class="t stroke" style="left:150.20px;top:722.32px;font-size:23.60px;letter-spacing:1.50px;transform:scale(1,1.0500) translateX(-100%);">0</div>
<div class="t stroke" style="left:150.20px;top:779.92px;font-size:23.60px;letter-spacing:1.50px;transform:scale(1,1.0500) translateX(-100%);">500</div>
<div class="t stroke" style="left:152.40px;top:520.03px;font-size:22.00px;letter-spacing:1.20px;transform:scale(1,1.0400) translateX(-100%);">(nT)</div>
<div class="t" style="left:22.00px;top:655.27px;font-size:42.00px;transform:scale(1,1.0500);">AE</div>
<div class="t" style="left:22.00px;top:740.31px;font-size:42.00px;transform:scale(1,1.0600);">AO</div>
<div class="t stroke" style="left:161.60px;top:792.82px;font-size:23.60px;transform:scale(1,1.1000) translateX(-50%);">00</div>
<div class="t stroke" style="left:445.60px;top:792.82px;font-size:23.60px;transform:scale(1,1.1000) translateX(-50%);">06</div>
<div class="t stroke" style="left:729.60px;top:792.82px;font-size:23.60px;transform:scale(1,1.1000) translateX(-50%);">12</div>
<div class="t stroke" style="left:1011.60px;top:792.82px;font-size:23.60px;transform:scale(1,1.1000) translateX(-50%);">18</div>
<div class="t stroke" style="left:1295.60px;top:792.82px;font-size:23.60px;transform:scale(1,1.1000) translateX(-50%);">24</div>
<div class="t" style="left:731.00px;top:817.59px;font-size:28.00px;letter-spacing:1.20px;transform:scale(1,1.0300) translateX(-50%);">U T</div>
<div class="t stroke" style="left:1340.00px;top:506.48px;font-size:23.60px;letter-spacing:0.80px;color:#ff0080;transform:scale(1,1.0500) translateX(-100%);">12</div>
<div class="t stroke" style="left:1340.00px;top:530.62px;font-size:23.60px;letter-spacing:0.80px;color:#ff2000;transform:scale(1,1.0500) translateX(-100%);">11</div>
<div class="t stroke" style="left:1340.00px;top:554.76px;font-size:23.60px;letter-spacing:0.80px;color:#ff9900;transform:scale(1,1.0500) translateX(-100%);">10</div>
<div class="t stroke" style="left:1340.00px;top:578.90px;font-size:23.60px;letter-spacing:0.80px;color:#ffe600;transform:scale(1,1.0500) translateX(-100%);">9</div>
<div class="t stroke" style="left:1340.00px;top:603.04px;font-size:23.60px;letter-spacing:0.80px;color:#99ff00;transform:scale(1,1.0500) translateX(-100%);">8</div>
<div class="t stroke" style="left:1340.00px;top:627.18px;font-size:23.60px;letter-spacing:0.80px;color:#00e6d2;transform:scale(1,1.0500) translateX(-100%);">7</div>
<div class="t stroke" style="left:1340.00px;top:651.32px;font-size:23.60px;letter-spacing:0.80px;color:#1a6eff;transform:scale(1,1.0500) translateX(-100%);">6</div>
<div class="t stroke" style="left:1340.00px;top:675.46px;font-size:23.60px;letter-spacing:0.80px;color:#3300ee;transform:scale(1,1.0500) translateX(-100%);">5</div>
<div class="t stroke" style="left:1340.00px;top:699.60px;font-size:23.60px;letter-spacing:0.80px;color:#ff00ff;transform:scale(1,1.0500) translateX(-100%);">4</div>
<div class="t stroke" style="left:1340.00px;top:723.74px;font-size:23.60px;letter-spacing:0.80px;color:#000000;transform:scale(1,1.0500) translateX(-100%);">3</div>
<div class="t stroke" style="left:1340.00px;top:747.88px;font-size:23.60px;letter-spacing:0.80px;color:#666666;transform:scale(1,1.0500) translateX(-100%);">2</div>
<div class="t stroke" style="left:1340.00px;top:772.02px;font-size:23.60px;letter-spacing:0.80px;color:#cccccc;transform:scale(1,1.0500) translateX(-100%);">1</div>
<div class="t" style="left:1297.00px;top:869.38px;font-size:22.00px;letter-spacing:0.20px;transform:scale(1,1.0000) translateX(-100%);">[Created at 2025-10-21 03:40UT]</div></div>
</body></html>
